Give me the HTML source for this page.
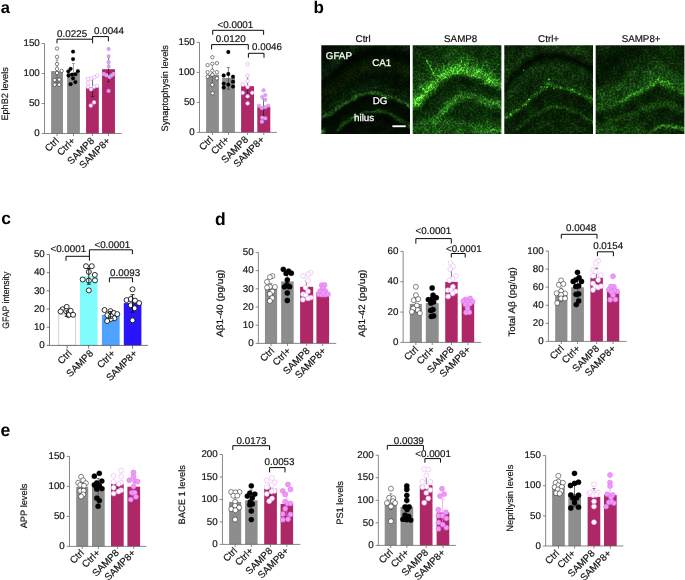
<!DOCTYPE html>
<html><head><meta charset="utf-8"><title>Figure</title>
<style>
html,body{margin:0;padding:0;background:#fff}
body{width:685px;height:580px;overflow:hidden;position:relative;font-family:"Liberation Sans",sans-serif}
svg{position:absolute;left:0;top:0;display:block}
svg text{font-family:"Liberation Sans",sans-serif;font-size:9.8px;fill:#111;stroke:#111;stroke-width:0.18px;text-rendering:geometricPrecision}
svg text.pl{font-size:16.5px;font-weight:bold;fill:#000;stroke:none}
svg text.yl{font-size:9.3px}
svg text.w{fill:#fff;stroke:#fff;stroke-width:0.25px}
</style></head><body>
<svg width="685" height="580" viewBox="0 0 685 580">
<text class="pl" x="0.7" y="12.6" style="font-size:16.5px">a</text>
<text class="pl" x="313.4" y="12.6" style="font-size:17px">b</text>
<text class="pl" x="1.3" y="224.3" style="font-size:17.4px">c</text>
<text class="pl" x="215.1" y="224.6" style="font-size:17.5px">d</text>
<text class="pl" x="0.6" y="436.0" style="font-size:17.6px">e</text>
<defs><clipPath id="ic"><rect x="0" y="0" width="88.7" height="88.7"/></clipPath><filter id="b1" x="-50%" y="-50%" width="200%" height="200%"><feGaussianBlur stdDeviation="1.0"/></filter><filter id="b2" x="-50%" y="-50%" width="200%" height="200%"><feGaussianBlur stdDeviation="2.0"/></filter><filter id="b3" x="-50%" y="-50%" width="200%" height="200%"><feGaussianBlur stdDeviation="3.5"/></filter><filter id="b05" x="-50%" y="-50%" width="200%" height="200%"><feGaussianBlur stdDeviation="0.55"/></filter><filter id="b6" x="-50%" y="-50%" width="200%" height="200%"><feGaussianBlur stdDeviation="6"/></filter><filter id="sp0" x="-5%" y="-5%" width="110%" height="110%" color-interpolation-filters="sRGB"><feTurbulence type="fractalNoise" baseFrequency="0.1" numOctaves="2" seed="3" result="lo"/><feDisplacementMap in="SourceGraphic" in2="lo" scale="4" xChannelSelector="R" yChannelSelector="G" result="d"/><feColorMatrix in="lo" type="matrix" values="0 0 1.6 0 -0.3  0 0 1.6 0 -0.3  0 0 1.6 0 -0.3  0 0 0 0 1" result="lg"/><feComposite in="d" in2="lg" operator="arithmetic" k1="0.7" k2="0.6" k3="0" k4="0" result="r1"/><feTurbulence type="fractalNoise" baseFrequency="0.5" numOctaves="2" seed="4" result="n"/><feColorMatrix in="n" type="matrix" values="0 1 0 0 0  0 1 0 0 0  0 1 0 0 0  0 0 0 0 1"/><feComponentTransfer><feFuncR type="gamma" exponent="3.2" amplitude="3.2"/><feFuncG type="gamma" exponent="3.2" amplitude="3.2"/><feFuncB type="gamma" exponent="3.2" amplitude="3.2"/></feComponentTransfer><feGaussianBlur stdDeviation="0.7" result="g"/><feComposite in="r1" in2="g" operator="arithmetic" k1="0.8" k2="0.5" k3="0" k4="0"/></filter><filter id="sp1" x="-5%" y="-5%" width="110%" height="110%" color-interpolation-filters="sRGB"><feTurbulence type="fractalNoise" baseFrequency="0.1" numOctaves="2" seed="11" result="lo"/><feDisplacementMap in="SourceGraphic" in2="lo" scale="4" xChannelSelector="R" yChannelSelector="G" result="d"/><feColorMatrix in="lo" type="matrix" values="0 0 1.6 0 -0.3  0 0 1.6 0 -0.3  0 0 1.6 0 -0.3  0 0 0 0 1" result="lg"/><feComposite in="d" in2="lg" operator="arithmetic" k1="0.7" k2="0.6" k3="0" k4="0" result="r1"/><feTurbulence type="fractalNoise" baseFrequency="0.5" numOctaves="2" seed="12" result="n"/><feColorMatrix in="n" type="matrix" values="0 1 0 0 0  0 1 0 0 0  0 1 0 0 0  0 0 0 0 1"/><feComponentTransfer><feFuncR type="gamma" exponent="3.2" amplitude="3.2"/><feFuncG type="gamma" exponent="3.2" amplitude="3.2"/><feFuncB type="gamma" exponent="3.2" amplitude="3.2"/></feComponentTransfer><feGaussianBlur stdDeviation="0.7" result="g"/><feComposite in="r1" in2="g" operator="arithmetic" k1="0.8" k2="0.5" k3="0" k4="0"/></filter><filter id="sp2" x="-5%" y="-5%" width="110%" height="110%" color-interpolation-filters="sRGB"><feTurbulence type="fractalNoise" baseFrequency="0.1" numOctaves="2" seed="23" result="lo"/><feDisplacementMap in="SourceGraphic" in2="lo" scale="4" xChannelSelector="R" yChannelSelector="G" result="d"/><feColorMatrix in="lo" type="matrix" values="0 0 1.6 0 -0.3  0 0 1.6 0 -0.3  0 0 1.6 0 -0.3  0 0 0 0 1" result="lg"/><feComposite in="d" in2="lg" operator="arithmetic" k1="0.7" k2="0.6" k3="0" k4="0" result="r1"/><feTurbulence type="fractalNoise" baseFrequency="0.5" numOctaves="2" seed="24" result="n"/><feColorMatrix in="n" type="matrix" values="0 1 0 0 0  0 1 0 0 0  0 1 0 0 0  0 0 0 0 1"/><feComponentTransfer><feFuncR type="gamma" exponent="3.2" amplitude="3.2"/><feFuncG type="gamma" exponent="3.2" amplitude="3.2"/><feFuncB type="gamma" exponent="3.2" amplitude="3.2"/></feComponentTransfer><feGaussianBlur stdDeviation="0.7" result="g"/><feComposite in="r1" in2="g" operator="arithmetic" k1="0.8" k2="0.5" k3="0" k4="0"/></filter><filter id="sp3" x="-5%" y="-5%" width="110%" height="110%" color-interpolation-filters="sRGB"><feTurbulence type="fractalNoise" baseFrequency="0.1" numOctaves="2" seed="37" result="lo"/><feDisplacementMap in="SourceGraphic" in2="lo" scale="4" xChannelSelector="R" yChannelSelector="G" result="d"/><feColorMatrix in="lo" type="matrix" values="0 0 1.6 0 -0.3  0 0 1.6 0 -0.3  0 0 1.6 0 -0.3  0 0 0 0 1" result="lg"/><feComposite in="d" in2="lg" operator="arithmetic" k1="0.7" k2="0.6" k3="0" k4="0" result="r1"/><feTurbulence type="fractalNoise" baseFrequency="0.5" numOctaves="2" seed="38" result="n"/><feColorMatrix in="n" type="matrix" values="0 1 0 0 0  0 1 0 0 0  0 1 0 0 0  0 0 0 0 1"/><feComponentTransfer><feFuncR type="gamma" exponent="3.2" amplitude="3.2"/><feFuncG type="gamma" exponent="3.2" amplitude="3.2"/><feFuncB type="gamma" exponent="3.2" amplitude="3.2"/></feComponentTransfer><feGaussianBlur stdDeviation="0.7" result="g"/><feComposite in="r1" in2="g" operator="arithmetic" k1="0.8" k2="0.5" k3="0" k4="0"/></filter></defs><g transform="translate(321.3 45.2)" clip-path="url(#ic)"><g filter="url(#sp0)"><rect x="-2" y="-2" width="93" height="93" fill="#051204"/><path d="M-3.0 34.0C-0.8 32.0 5.5 26.0 10.0 22.0C14.5 18.0 19.3 13.5 24.0 10.0C28.7 6.5 33.3 3.2 38.0 1.0C42.7 -1.2 47.0 -2.8 52.0 -3.5C57.0 -4.2 61.5 -4.1 68.0 -3.0C74.5 -1.9 87.2 2.0 91.0 3.0" fill="none" stroke="#1f5a14" stroke-width="10" stroke-opacity="0.3" stroke-linecap="round" filter="url(#b3)"/><path d="M-3.0 44.0C-0.8 42.0 5.5 36.0 10.0 32.0C14.5 28.0 19.3 23.5 24.0 20.0C28.7 16.5 33.3 13.2 38.0 11.0C42.7 8.8 47.0 7.2 52.0 6.5C57.0 5.8 61.5 5.9 68.0 7.0C74.5 8.1 87.2 12.0 91.0 13.0" fill="none" stroke="#020803" stroke-width="7" stroke-opacity="0.7" stroke-linecap="round" filter="url(#b2)"/><path d="M-3.0 58.0C-0.8 56.0 5.5 50.0 10.0 46.0C14.5 42.0 19.3 37.5 24.0 34.0C28.7 30.5 33.3 27.2 38.0 25.0C42.7 22.8 47.0 21.2 52.0 20.5C57.0 19.8 61.5 19.9 68.0 21.0C74.5 22.1 87.2 26.0 91.0 27.0" fill="none" stroke="#1d5513" stroke-width="12" stroke-opacity="0.22" stroke-linecap="round" filter="url(#b3)"/><path d="M-2.0 69.0C-0.3 68.2 4.7 66.0 8.3 64.0C11.9 62.0 15.7 59.4 19.4 56.9C23.1 54.4 27.1 51.1 30.5 49.0C33.9 46.9 36.8 45.3 40.0 44.2C43.2 43.1 46.3 42.7 49.5 42.6C52.7 42.5 55.5 43.1 59.0 43.9C62.5 44.7 66.5 46.0 70.2 47.4C73.9 48.8 77.8 50.4 81.3 52.1C84.8 53.8 89.4 56.6 91.0 57.5" fill="none" stroke="#1f5c15" stroke-width="8" stroke-opacity="0.4" stroke-linecap="round" filter="url(#b3)"/><path d="M-2.0 74.0C-0.3 73.2 4.7 71.0 8.3 69.0C11.9 67.0 15.7 64.4 19.4 61.9C23.1 59.4 27.1 56.1 30.5 54.0C33.9 51.9 36.8 50.3 40.0 49.2C43.2 48.1 46.3 47.7 49.5 47.6C52.7 47.5 55.5 48.1 59.0 48.9C62.5 49.7 66.5 51.0 70.2 52.4C73.9 53.8 77.8 55.4 81.3 57.1C84.8 58.8 89.4 61.6 91.0 62.5" fill="none" stroke="#4cc934" stroke-width="1.8" stroke-opacity="0.9" stroke-linecap="round" filter="url(#b1)"/><path d="M-2.0 80.5C-0.3 79.7 4.7 77.5 8.3 75.5C11.9 73.5 15.7 70.9 19.4 68.4C23.1 65.9 27.1 62.6 30.5 60.5C33.9 58.4 36.8 56.8 40.0 55.7C43.2 54.6 46.3 54.2 49.5 54.1C52.7 54.0 55.5 54.6 59.0 55.4C62.5 56.2 66.5 57.5 70.2 58.9C73.9 60.3 77.8 61.9 81.3 63.6C84.8 65.3 89.4 68.1 91.0 69.0" fill="none" stroke="#020803" stroke-width="6" stroke-opacity="0.45" stroke-linecap="round" filter="url(#b2)"/><path d="M14.0 86.0C14.9 85.2 16.6 83.2 19.4 81.0C22.1 78.8 26.5 75.2 30.5 73.0C34.5 70.8 39.2 68.7 43.2 67.5C47.2 66.3 50.6 65.9 54.3 65.9C58.0 65.9 61.7 66.3 65.4 67.5C69.1 68.7 72.2 70.4 76.5 73.0C80.8 75.6 88.6 81.3 91.0 83.0" fill="none" stroke="#2f8a20" stroke-width="2.2" stroke-opacity="0.8" stroke-linecap="round" filter="url(#b1)"/><path d="M14.0 92.5C14.9 91.7 16.6 89.7 19.4 87.5C22.1 85.3 26.5 81.8 30.5 79.5C34.5 77.2 39.2 75.2 43.2 74.0C47.2 72.8 50.6 72.4 54.3 72.4C58.0 72.4 61.7 72.8 65.4 74.0C69.1 75.2 72.2 76.9 76.5 79.5C80.8 82.1 88.6 87.8 91.0 89.5" fill="none" stroke="#020803" stroke-width="6" stroke-opacity="0.5" stroke-linecap="round" filter="url(#b2)"/><circle cx="1.5" cy="86.5" r="2" fill="#5e4" filter="url(#b1)"/></g></g><g transform="translate(412.7 45.2)" clip-path="url(#ic)"><g filter="url(#sp1)"><rect x="-2" y="-2" width="93" height="93" fill="#10390c"/><path d="M-3.0 48.0C-1.1 47.1 5.3 45.1 8.6 42.6C11.9 40.1 14.1 35.7 16.9 32.7C19.7 29.7 22.2 26.9 25.2 24.4C28.2 21.9 31.8 19.4 35.1 17.8C38.4 16.2 41.7 14.6 45.0 14.5C48.3 14.4 51.7 16.0 55.0 17.0C58.3 18.0 61.6 19.1 64.9 20.3C68.2 21.5 70.5 22.5 74.8 24.4C79.1 26.3 88.3 30.3 91.0 31.5" fill="none" stroke="#2c8a1e" stroke-width="16" stroke-opacity="0.5" stroke-linecap="round" filter="url(#b3)"/><path d="M-3.0 67.0C-1.1 66.1 5.3 64.2 8.6 61.6C11.9 59.1 14.1 54.7 16.9 51.7C19.7 48.7 22.2 45.9 25.2 43.4C28.2 40.9 31.8 38.4 35.1 36.8C38.4 35.1 41.7 33.6 45.0 33.5C48.3 33.4 51.7 35.0 55.0 36.0C58.3 37.0 61.6 38.1 64.9 39.3C68.2 40.5 70.5 41.5 74.8 43.4C79.1 45.3 88.3 49.3 91.0 50.5" fill="none" stroke="#061a05" stroke-width="9" stroke-opacity="0.6" stroke-linecap="round" filter="url(#b3)"/><path d="M-3.0 58.0C-1.1 57.1 5.3 55.1 8.6 52.6C11.9 50.1 14.1 45.7 16.9 42.7C19.7 39.7 22.2 36.9 25.2 34.4C28.2 31.9 31.8 29.4 35.1 27.8C38.4 26.2 41.7 24.6 45.0 24.5C48.3 24.4 51.7 26.0 55.0 27.0C58.3 28.0 61.6 29.1 64.9 30.3C68.2 31.5 70.5 32.5 74.8 34.4C79.1 36.3 88.3 40.3 91.0 41.5" fill="none" stroke="#4cc934" stroke-width="9" stroke-opacity="0.85" stroke-linecap="round" filter="url(#b2)"/><path d="M-3.0 58.0C-1.1 57.1 5.3 55.1 8.6 52.6C11.9 50.1 14.1 45.7 16.9 42.7C19.7 39.7 22.2 36.9 25.2 34.4C28.2 31.9 31.8 29.4 35.1 27.8C38.4 26.2 41.7 24.6 45.0 24.5C48.3 24.4 51.7 26.0 55.0 27.0C58.3 28.0 61.6 29.1 64.9 30.3C68.2 31.5 70.5 32.5 74.8 34.4C79.1 36.3 88.3 40.3 91.0 41.5" fill="none" stroke="#5fe83a" stroke-width="3.6" stroke-opacity="0.95" stroke-linecap="round" filter="url(#b1)"/><path d="M22.0 78.0C23.1 76.5 26.0 72.0 28.5 69.2C31.0 66.4 34.0 63.4 36.8 60.9C39.5 58.4 42.2 55.9 45.0 54.3C47.8 52.6 50.0 51.1 53.3 51.0C56.6 50.9 61.3 52.5 64.9 53.5C68.5 54.5 70.5 55.1 74.8 56.8C79.1 58.5 88.3 62.4 91.0 63.5" fill="none" stroke="#45b830" stroke-width="7" stroke-opacity="0.85" stroke-linecap="round" filter="url(#b2)"/><path d="M22.0 87.0C23.1 85.5 26.0 81.0 28.5 78.2C31.0 75.4 34.0 72.4 36.8 69.9C39.5 67.4 42.2 65.0 45.0 63.3C47.8 61.6 50.0 60.1 53.3 60.0C56.6 59.9 61.3 61.5 64.9 62.5C68.5 63.5 70.5 64.1 74.8 65.8C79.1 67.5 88.3 71.4 91.0 72.5" fill="none" stroke="#08230a" stroke-width="6" stroke-opacity="0.5" stroke-linecap="round" filter="url(#b3)"/><rect x="-2" y="76" width="93" height="16" fill="#2f8d20" opacity="0.6" filter="url(#b3)"/><circle cx="5" cy="58" r="4" fill="#58e238" opacity="0.8" filter="url(#b2)"/><path d="M21 29L14.5 14.5" stroke="#52d634" stroke-width="1.4" stroke-opacity="0.85" fill="none" filter="url(#b05)"/><path d="M20 30L24 22" stroke="#52d634" stroke-width="1.4" stroke-opacity="0.85" fill="none" filter="url(#b05)"/><path d="M37 26L36 17" stroke="#52d634" stroke-width="1.4" stroke-opacity="0.85" fill="none" filter="url(#b05)"/><path d="M61 26L64 17" stroke="#52d634" stroke-width="1.4" stroke-opacity="0.85" fill="none" filter="url(#b05)"/><path d="M73 32L80 24" stroke="#52d634" stroke-width="1.4" stroke-opacity="0.85" fill="none" filter="url(#b05)"/><path d="M81 26L86 19" stroke="#52d634" stroke-width="1.4" stroke-opacity="0.85" fill="none" filter="url(#b05)"/><path d="M47 24L49 15" stroke="#52d634" stroke-width="1.4" stroke-opacity="0.85" fill="none" filter="url(#b05)"/><path d="M29 31L26 24" stroke="#52d634" stroke-width="1.4" stroke-opacity="0.85" fill="none" filter="url(#b05)"/><path d="M54 25L56 16" stroke="#52d634" stroke-width="1.4" stroke-opacity="0.85" fill="none" filter="url(#b05)"/><path d="M67 29L70 20" stroke="#52d634" stroke-width="1.4" stroke-opacity="0.85" fill="none" filter="url(#b05)"/><path d="M42 25L40 17" stroke="#52d634" stroke-width="1.4" stroke-opacity="0.85" fill="none" filter="url(#b05)"/><path d="M13 46L8 40" stroke="#52d634" stroke-width="1.4" stroke-opacity="0.85" fill="none" filter="url(#b05)"/><path d="M10 50L4 47" stroke="#52d634" stroke-width="1.4" stroke-opacity="0.85" fill="none" filter="url(#b05)"/><path d="M33 29L31 21" stroke="#52d634" stroke-width="1.4" stroke-opacity="0.85" fill="none" filter="url(#b05)"/><circle cx="13" cy="45" r="2.4" fill="#58e238" opacity="0.75" filter="url(#b1)"/><circle cx="20" cy="35" r="2.2" fill="#58e238" opacity="0.75" filter="url(#b1)"/><circle cx="23" cy="29" r="2.0" fill="#58e238" opacity="0.75" filter="url(#b1)"/><circle cx="30" cy="27" r="2.4" fill="#58e238" opacity="0.75" filter="url(#b1)"/><circle cx="37" cy="22" r="2.2" fill="#58e238" opacity="0.75" filter="url(#b1)"/><circle cx="45" cy="21" r="2.6" fill="#58e238" opacity="0.75" filter="url(#b1)"/><circle cx="52" cy="19" r="2.2" fill="#58e238" opacity="0.75" filter="url(#b1)"/><circle cx="58" cy="23" r="2.4" fill="#58e238" opacity="0.75" filter="url(#b1)"/><circle cx="66" cy="25" r="2.6" fill="#58e238" opacity="0.75" filter="url(#b1)"/><circle cx="72" cy="30" r="2.2" fill="#58e238" opacity="0.75" filter="url(#b1)"/><circle cx="79" cy="29" r="2.0" fill="#58e238" opacity="0.75" filter="url(#b1)"/><circle cx="85" cy="36" r="2.4" fill="#58e238" opacity="0.75" filter="url(#b1)"/><circle cx="9" cy="52" r="2.2" fill="#58e238" opacity="0.75" filter="url(#b1)"/><circle cx="41" cy="27" r="1.8" fill="#58e238" opacity="0.75" filter="url(#b1)"/><path d="M70 88Q78 84 91 86" stroke="#58e238" stroke-width="2" fill="none" filter="url(#b1)"/></g></g><g transform="translate(504.3 45.2)" clip-path="url(#ic)"><g filter="url(#sp2)"><rect x="-2" y="-2" width="93" height="93" fill="#0d2c08"/><path d="M-3.0 37.0C-0.8 34.4 6.2 25.7 10.3 21.1C14.4 16.5 17.8 12.5 21.9 9.5C26.0 6.5 30.1 4.3 35.1 2.9C40.1 1.5 46.2 1.0 51.7 1.3C57.2 1.6 61.7 2.2 68.2 4.6C74.8 7.0 87.2 13.7 91.0 15.5" fill="none" stroke="#1f5c15" stroke-width="10" stroke-opacity="0.45" stroke-linecap="round" filter="url(#b3)"/><path d="M-3.0 47.0C-0.8 44.4 6.2 35.7 10.3 31.1C14.4 26.5 17.8 22.5 21.9 19.5C26.0 16.5 30.1 14.3 35.1 12.9C40.1 11.5 46.2 11.0 51.7 11.3C57.2 11.6 61.7 12.2 68.2 14.6C74.8 17.0 87.2 23.7 91.0 25.5" fill="none" stroke="#020702" stroke-width="6" stroke-opacity="0.85" stroke-linecap="round" filter="url(#b2)"/><path d="M-3.0 59.0C-0.8 56.4 6.2 47.7 10.3 43.1C14.4 38.5 17.8 34.5 21.9 31.5C26.0 28.5 30.1 26.3 35.1 24.9C40.1 23.5 46.2 23.0 51.7 23.3C57.2 23.6 61.7 24.2 68.2 26.6C74.8 29.0 87.2 35.7 91.0 37.5" fill="none" stroke="#1f5c15" stroke-width="11" stroke-opacity="0.4" stroke-linecap="round" filter="url(#b3)"/><path d="M-3.0 71.0C-1.9 70.3 0.8 68.7 3.6 66.9C6.4 65.1 10.3 62.7 13.6 60.2C16.9 57.7 20.2 54.8 23.5 52.0C26.8 49.2 30.5 46.1 33.4 43.7C36.3 41.3 39.0 39.1 41.0 37.5C43.0 35.9 44.0 34.1 45.7 34.0C47.4 33.9 48.6 36.1 51.0 37.0C53.4 37.9 56.8 38.7 59.9 39.5C63.0 40.3 66.6 40.8 69.9 42.0C73.2 43.2 76.3 45.0 79.8 47.0C83.3 49.0 89.1 52.8 91.0 54.0" fill="none" stroke="#1f5c15" stroke-width="7" stroke-opacity="0.45" stroke-linecap="round" filter="url(#b3)"/><path d="M-3.0 75.0C-1.9 74.3 0.8 72.7 3.6 70.9C6.4 69.1 10.3 66.7 13.6 64.2C16.9 61.7 20.2 58.8 23.5 56.0C26.8 53.2 30.5 50.1 33.4 47.7C36.3 45.3 39.0 43.1 41.0 41.5C43.0 39.9 44.0 38.1 45.7 38.0C47.4 37.9 48.6 40.1 51.0 41.0C53.4 41.9 56.8 42.7 59.9 43.5C63.0 44.3 66.6 44.8 69.9 46.0C73.2 47.2 76.3 49.0 79.8 51.0C83.3 53.0 89.1 56.8 91.0 58.0" fill="none" stroke="#3fae2b" stroke-width="2.0" stroke-opacity="0.75" stroke-linecap="round" filter="url(#b1)"/><path d="M-3.0 82.0C-1.9 81.3 0.8 79.7 3.6 77.9C6.4 76.1 10.3 73.7 13.6 71.2C16.9 68.7 20.2 65.8 23.5 63.0C26.8 60.2 30.5 57.1 33.4 54.7C36.3 52.3 39.0 50.1 41.0 48.5C43.0 46.9 44.0 45.1 45.7 45.0C47.4 44.9 48.6 47.1 51.0 48.0C53.4 48.9 56.8 49.7 59.9 50.5C63.0 51.3 66.6 51.8 69.9 53.0C73.2 54.2 76.3 56.0 79.8 58.0C83.3 60.0 89.1 63.8 91.0 65.0" fill="none" stroke="#030a03" stroke-width="6" stroke-opacity="0.25" stroke-linecap="round" filter="url(#b2)"/><path d="M12.0 85.0C13.1 84.0 15.5 81.4 18.5 79.1C21.5 76.8 26.2 73.4 30.1 70.9C34.0 68.4 38.1 65.7 41.7 64.2C45.3 62.7 48.1 61.9 51.7 61.8C55.3 61.7 59.6 62.4 63.2 63.4C66.8 64.3 69.9 65.7 73.2 67.5C76.5 69.3 80.1 72.0 83.1 74.2C86.1 76.5 89.7 79.9 91.0 81.0" fill="none" stroke="#2f8d20" stroke-width="1.8" stroke-opacity="0.65" stroke-linecap="round" filter="url(#b1)"/><path d="M12.0 90.0C13.1 89.0 15.5 86.4 18.5 84.1C21.5 81.8 26.2 78.4 30.1 75.9C34.0 73.4 38.1 70.7 41.7 69.2C45.3 67.7 48.1 66.9 51.7 66.8C55.3 66.7 59.6 67.5 63.2 68.4C66.8 69.4 69.9 70.7 73.2 72.5C76.5 74.3 80.1 77.0 83.1 79.2C86.1 81.5 89.7 84.9 91.0 86.0" fill="none" stroke="#030a03" stroke-width="4" stroke-opacity="0.25" stroke-linecap="round" filter="url(#b2)"/><path d="M30.0 89.0C31.7 87.5 36.3 82.4 40.0 80.0C43.7 77.6 47.7 75.0 52.0 74.5C56.3 74.0 61.3 75.1 66.0 77.0C70.7 78.9 77.7 84.5 80.0 86.0" fill="none" stroke="#2a7a1c" stroke-width="1.6" stroke-opacity="0.5" stroke-linecap="round" filter="url(#b1)"/><circle cx="44.6" cy="34" r="0.7" fill="#58e238" opacity="0.9" filter="url(#b05)"/><circle cx="37" cy="41" r="1.1" fill="#58e238" opacity="0.9" filter="url(#b05)"/><circle cx="43" cy="41.5" r="1.0" fill="#58e238" opacity="0.9" filter="url(#b05)"/><circle cx="50" cy="43" r="1.1" fill="#58e238" opacity="0.9" filter="url(#b05)"/><circle cx="57" cy="43.5" r="1.2" fill="#58e238" opacity="0.9" filter="url(#b05)"/><circle cx="68" cy="45" r="1.0" fill="#58e238" opacity="0.9" filter="url(#b05)"/><circle cx="35.5" cy="46.5" r="1.3" fill="#58e238" opacity="0.9" filter="url(#b05)"/><circle cx="25" cy="54" r="1.2" fill="#58e238" opacity="0.9" filter="url(#b05)"/><circle cx="21" cy="59" r="1.3" fill="#58e238" opacity="0.9" filter="url(#b05)"/><circle cx="13" cy="65" r="1.2" fill="#58e238" opacity="0.9" filter="url(#b05)"/><circle cx="6" cy="69" r="1.3" fill="#58e238" opacity="0.9" filter="url(#b05)"/><circle cx="75" cy="49" r="1.0" fill="#58e238" opacity="0.9" filter="url(#b05)"/><circle cx="20" cy="24" r="0.9" fill="#58e238" opacity="0.9" filter="url(#b05)"/><path d="M44.5 31.5V37" stroke="#58e238" stroke-width="0.9" filter="url(#b05)"/></g></g><g transform="translate(595.7 45.2)" clip-path="url(#ic)"><g filter="url(#sp3)"><rect x="-2" y="-2" width="93" height="93" fill="#0e3009"/><path d="M-3.0 33.0C-0.8 31.2 5.5 25.8 10.0 22.0C14.5 18.2 20.0 13.2 24.0 10.0C28.0 6.8 31.0 5.2 34.0 3.0C37.0 0.8 40.7 -2.0 42.0 -3.0" fill="none" stroke="#041004" stroke-width="16" stroke-opacity="0.7" stroke-linecap="round" filter="url(#b3)"/><path d="M3.0 51.0C5.0 50.7 11.1 50.2 15.0 49.0C18.9 47.8 22.9 45.8 26.5 44.0C30.1 42.2 33.1 40.1 36.4 38.2C39.7 36.3 43.4 34.1 46.4 32.4C49.4 30.7 51.9 29.5 54.6 28.2C57.4 27.0 61.0 25.3 62.9 24.9C64.8 24.5 64.5 25.2 66.2 25.7C67.9 26.3 70.3 27.1 72.8 28.2C75.3 29.3 78.1 30.9 81.1 32.4C84.1 33.9 89.3 36.2 91.0 37.0" fill="none" stroke="#27741a" stroke-width="16" stroke-opacity="0.6" stroke-linecap="round" filter="url(#b3)"/><path d="M3.0 63.0C5.0 62.7 11.1 62.2 15.0 61.0C18.9 59.8 22.9 57.8 26.5 56.0C30.1 54.2 33.1 52.1 36.4 50.2C39.7 48.3 43.4 46.1 46.4 44.4C49.4 42.7 51.9 41.5 54.6 40.2C57.4 39.0 61.0 37.3 62.9 36.9C64.8 36.5 64.5 37.2 66.2 37.7C67.9 38.2 70.3 39.1 72.8 40.2C75.3 41.3 78.1 42.9 81.1 44.4C84.1 45.9 89.3 48.2 91.0 49.0" fill="none" stroke="#2f8a20" stroke-width="6" stroke-opacity="0.7" stroke-linecap="round" filter="url(#b2)"/><path d="M26.5 56.0C28.1 55.0 33.1 52.1 36.4 50.2C39.7 48.3 43.4 46.1 46.4 44.4C49.4 42.7 51.9 41.5 54.6 40.2C57.4 39.0 61.0 37.3 62.9 36.9C64.8 36.5 64.5 37.2 66.2 37.7C67.9 38.2 70.3 39.1 72.8 40.2C75.3 41.3 78.1 42.9 81.1 44.4C84.1 45.9 89.3 48.2 91.0 49.0" fill="none" stroke="#50d634" stroke-width="1.8" stroke-opacity="0.9" stroke-linecap="round" filter="url(#b1)"/><path d="M3.0 71.0C5.0 70.7 11.1 70.2 15.0 69.0C18.9 67.8 22.9 65.8 26.5 64.0C30.1 62.2 33.1 60.1 36.4 58.2C39.7 56.3 43.4 54.1 46.4 52.4C49.4 50.7 51.9 49.5 54.6 48.2C57.4 47.0 61.0 45.3 62.9 44.9C64.8 44.5 64.5 45.2 66.2 45.7C67.9 46.2 70.3 47.1 72.8 48.2C75.3 49.3 78.1 50.9 81.1 52.4C84.1 53.9 89.3 56.2 91.0 57.0" fill="none" stroke="#05150a" stroke-width="6" stroke-opacity="0.35" stroke-linecap="round" filter="url(#b2)"/><path d="M10.0 76.0C11.4 75.8 14.1 75.8 18.2 75.0C22.3 74.2 29.8 72.7 34.8 70.9C39.8 69.1 43.9 66.0 48.0 64.2C52.1 62.4 56.3 60.9 59.6 60.1C62.9 59.3 64.6 59.0 67.9 59.3C71.2 59.6 75.7 60.7 79.5 61.8C83.3 62.9 89.1 65.3 91.0 66.0" fill="none" stroke="#2f8d20" stroke-width="3.5" stroke-opacity="0.7" stroke-linecap="round" filter="url(#b2)"/><path d="M10.0 83.0C11.4 82.8 14.1 82.8 18.2 82.0C22.3 81.2 29.8 79.7 34.8 77.9C39.8 76.1 43.9 73.0 48.0 71.2C52.1 69.4 56.3 67.9 59.6 67.1C62.9 66.3 64.6 66.0 67.9 66.3C71.2 66.6 75.7 67.7 79.5 68.8C83.3 69.9 89.1 72.3 91.0 73.0" fill="none" stroke="#05150a" stroke-width="5" stroke-opacity="0.25" stroke-linecap="round" filter="url(#b2)"/><path d="M50.0 91.0C50.8 90.3 52.5 88.2 54.6 86.6C56.8 85.0 60.1 82.6 62.9 81.6C65.7 80.6 68.4 80.5 71.2 80.5C74.0 80.5 76.2 81.0 79.5 81.6C82.8 82.2 89.1 83.6 91.0 84.0" fill="none" stroke="#56e036" stroke-width="1.8" stroke-opacity="0.95" stroke-linecap="round" filter="url(#b1)"/><rect x="-2" y="80" width="50" height="12" fill="#2a7f1c" opacity="0.5" filter="url(#b3)"/><path d="M62 36L65 30M74 40L72 35" stroke="#52d634" stroke-width="1.3" fill="none" filter="url(#b05)"/></g></g><text x="363.2" y="42.0" text-anchor="middle">Ctrl</text><text x="460.7" y="42.0" text-anchor="middle">SAMP8</text><text x="548.6" y="42.0" text-anchor="middle">Ctrl+</text><text x="641.1" y="42.0" text-anchor="middle">SAMP8+</text><text class="w" x="325.8" y="58.8">GFAP</text><text class="w" x="372.2" y="66.0">CA1</text><text class="w" x="372.8" y="104.4">DG</text><text class="w" x="354.0" y="121.2">hilus</text><rect x="392.4" y="125.3" width="13.3" height="1.9" fill="#fff"/>
<g>
<rect x="51.1" y="71.1" width="11.9" height="62.4" fill="#8d8d8d"/>
<rect x="67.1" y="73" width="12.8" height="60.5" fill="#8d8d8d"/>
<rect x="86.05" y="87.2" width="12.75" height="46.3" fill="#ae2868"/>
<rect x="102.05" y="69.2" width="12.9" height="64.3" fill="#ae2868"/>
<path d="M44.5 43.55V133.5H121.5" fill="none" stroke="#606060" stroke-width="0.75"/>
<path d="M44.5 133.5h-2.8M44.5 103.52h-2.8M44.5 73.53h-2.8M44.5 43.55h-2.8M57.05 133.5v2.6M73.5 133.5v2.6M92.42 133.5v2.6M108.5 133.5v2.6" fill="none" stroke="#606060" stroke-width="0.75"/>
<text x="39.8" y="136.2" text-anchor="end">0</text>
<text x="39.8" y="106.22" text-anchor="end">50</text>
<text x="39.8" y="76.23" text-anchor="end">100</text>
<text x="39.8" y="46.25" text-anchor="end">150</text>
<path d="M57 82.77V59.86M55.5 82.77h3M55.5 59.86h3" fill="none" stroke="#555" stroke-width="0.6"/>
<path d="M73.5 83.13V63.58M72 83.13h3M72 63.58h3" fill="none" stroke="#666" stroke-width="0.6"/>
<path d="M92.55 96.62V78.27M91.05 96.62h3M91.05 78.27h3" fill="none" stroke="#111" stroke-width="0.6"/>
<path d="M108.6 81.81V57.34M107.1 81.81h3M107.1 57.34h3" fill="none" stroke="#111" stroke-width="0.6"/>
<circle cx="57" cy="48.55" r="1.7" fill="#fff" stroke="#222" stroke-width="0.55"/>
<circle cx="57" cy="56.8" r="1.7" fill="#fff" stroke="#222" stroke-width="0.55"/>
<circle cx="57" cy="64.1" r="1.7" fill="#fff" stroke="#222" stroke-width="0.55"/>
<circle cx="57" cy="68.8" r="1.7" fill="#fff" stroke="#222" stroke-width="0.55"/>
<circle cx="61.7" cy="70.9" r="1.7" fill="#fff" stroke="#222" stroke-width="0.55"/>
<circle cx="57" cy="73" r="1.7" fill="#fff" stroke="#222" stroke-width="0.55"/>
<circle cx="54.7" cy="80" r="1.7" fill="#fff" stroke="#222" stroke-width="0.55"/>
<circle cx="59.2" cy="79.6" r="1.7" fill="#fff" stroke="#222" stroke-width="0.55"/>
<circle cx="54.7" cy="84.7" r="1.7" fill="#fff" stroke="#222" stroke-width="0.55"/>
<circle cx="59.2" cy="84.7" r="1.7" fill="#fff" stroke="#222" stroke-width="0.55"/>
<circle cx="73.07" cy="51.6" r="1.9" fill="#000" stroke="#000" stroke-width="0.2"/>
<circle cx="73.07" cy="59.07" r="1.9" fill="#000" stroke="#000" stroke-width="0.2"/>
<circle cx="70.6" cy="68.8" r="1.9" fill="#000" stroke="#000" stroke-width="0.2"/>
<circle cx="68.35" cy="71.3" r="1.9" fill="#000" stroke="#000" stroke-width="0.2"/>
<circle cx="77.9" cy="71.15" r="1.9" fill="#000" stroke="#000" stroke-width="0.2"/>
<circle cx="75.4" cy="74.2" r="1.9" fill="#000" stroke="#000" stroke-width="0.2"/>
<circle cx="72.1" cy="74.6" r="1.9" fill="#000" stroke="#000" stroke-width="0.2"/>
<circle cx="68.5" cy="75.5" r="1.9" fill="#000" stroke="#000" stroke-width="0.2"/>
<circle cx="73.07" cy="78.35" r="1.9" fill="#000" stroke="#000" stroke-width="0.2"/>
<circle cx="75.4" cy="82.1" r="1.9" fill="#000" stroke="#000" stroke-width="0.2"/>
<circle cx="70.6" cy="84.15" r="1.9" fill="#000" stroke="#000" stroke-width="0.2"/>
<circle cx="97" cy="75.7" r="1.8" fill="#fff" stroke="#e4aaf8" stroke-width="0.75"/>
<circle cx="94.3" cy="77.4" r="1.8" fill="#fff" stroke="#e4aaf8" stroke-width="0.75"/>
<circle cx="91.1" cy="78.6" r="1.8" fill="#fff" stroke="#e4aaf8" stroke-width="0.75"/>
<circle cx="88.1" cy="78.95" r="1.8" fill="#fff" stroke="#e4aaf8" stroke-width="0.75"/>
<circle cx="88.1" cy="82.9" r="1.8" fill="#fff" stroke="#e4aaf8" stroke-width="0.75"/>
<circle cx="87.9" cy="86.8" r="1.8" fill="#fff" stroke="#e4aaf8" stroke-width="0.75"/>
<circle cx="97" cy="86" r="1.8" fill="#fff" stroke="#e4aaf8" stroke-width="0.75"/>
<circle cx="94.1" cy="86.8" r="1.8" fill="#fff" stroke="#e4aaf8" stroke-width="0.75"/>
<circle cx="91.1" cy="89.2" r="1.8" fill="#fff" stroke="#e4aaf8" stroke-width="0.75"/>
<circle cx="94.1" cy="102.4" r="1.8" fill="#fff" stroke="#e4aaf8" stroke-width="0.75"/>
<circle cx="90.8" cy="105.6" r="1.8" fill="#fff" stroke="#e4aaf8" stroke-width="0.75"/>
<circle cx="108.6" cy="49" r="1.95" fill="#db9df6" stroke="#db9df6" stroke-width="0.2"/>
<circle cx="108.6" cy="56.1" r="1.95" fill="#db9df6" stroke="#db9df6" stroke-width="0.2"/>
<circle cx="108.6" cy="62.2" r="1.95" fill="#db9df6" stroke="#db9df6" stroke-width="0.2"/>
<circle cx="108.6" cy="66.5" r="1.95" fill="#db9df6" stroke="#db9df6" stroke-width="0.2"/>
<circle cx="103.8" cy="74" r="1.95" fill="#db9df6" stroke="#db9df6" stroke-width="0.2"/>
<circle cx="106.4" cy="75.3" r="1.95" fill="#db9df6" stroke="#db9df6" stroke-width="0.2"/>
<circle cx="109.6" cy="77" r="1.95" fill="#db9df6" stroke="#db9df6" stroke-width="0.2"/>
<circle cx="111.6" cy="75.4" r="1.95" fill="#db9df6" stroke="#db9df6" stroke-width="0.2"/>
<circle cx="113.6" cy="74" r="1.95" fill="#db9df6" stroke="#db9df6" stroke-width="0.2"/>
<circle cx="108.6" cy="90.9" r="1.95" fill="#db9df6" stroke="#db9df6" stroke-width="0.2"/>
<text transform="translate(59.45 141.4) rotate(-45)" text-anchor="end">Ctrl</text>
<text transform="translate(75.9 141.4) rotate(-45)" text-anchor="end">Ctrl+</text>
<text transform="translate(94.83 141.4) rotate(-45)" text-anchor="end">SAMP8</text>
<text transform="translate(110.9 141.4) rotate(-45)" text-anchor="end">SAMP8+</text>
<text class="yl" transform="translate(7.6 93.9) rotate(-90)" text-anchor="middle" textLength="53.4" lengthAdjust="spacingAndGlyphs">EphB2 levels</text>
<path d="M57 43.3V39.2H92.6V43.3" fill="none" stroke="#0a0a0a" stroke-width="1"/>
<path d="M92.6 39.2V36.6H108.4V41.3" fill="none" stroke="#0a0a0a" stroke-width="1"/>
<text x="72.1" y="36.5" text-anchor="middle">0.0225</text>
<text x="109" y="34.2" text-anchor="middle">0.0044</text>
</g>
<g>
<rect x="206.1" y="74.6" width="12.8" height="57.8" fill="#8d8d8d"/>
<rect x="222.2" y="77.9" width="12.7" height="54.5" fill="#8d8d8d"/>
<rect x="241.1" y="86.2" width="12.9" height="46.2" fill="#ae2868"/>
<rect x="257.3" y="106.6" width="13" height="25.8" fill="#ae2868"/>
<path d="M199.5 42.4V132.4H276.9" fill="none" stroke="#606060" stroke-width="0.75"/>
<path d="M199.5 132.4h-2.8M199.5 102.4h-2.8M199.5 72.4h-2.8M199.5 42.4h-2.8M212.5 132.4v2.6M228.55 132.4v2.6M247.55 132.4v2.6M263.8 132.4v2.6" fill="none" stroke="#606060" stroke-width="0.75"/>
<text x="194.8" y="135.1" text-anchor="end">0</text>
<text x="194.8" y="105.1" text-anchor="end">50</text>
<text x="194.8" y="75.1" text-anchor="end">100</text>
<text x="194.8" y="45.1" text-anchor="end">150</text>
<path d="M212.35 85.6V64M210.85 85.6h3M210.85 64h3" fill="none" stroke="#444" stroke-width="0.6"/>
<path d="M228.4 89.2V67.6M226.9 89.2h3M226.9 67.6h3" fill="none" stroke="#333" stroke-width="0.6"/>
<path d="M247.6 98.56V75.64M246.1 98.56h3M246.1 75.64h3" fill="none" stroke="#111" stroke-width="0.6"/>
<path d="M263.5 116.44V99.1M262 116.44h3M262 99.1h3" fill="none" stroke="#111" stroke-width="0.6"/>
<circle cx="212.35" cy="57.25" r="1.7" fill="#fff" stroke="#222" stroke-width="0.55"/>
<circle cx="212.35" cy="63.7" r="1.7" fill="#fff" stroke="#222" stroke-width="0.55"/>
<circle cx="216.9" cy="63.2" r="1.7" fill="#fff" stroke="#222" stroke-width="0.55"/>
<circle cx="207.6" cy="65.1" r="1.7" fill="#fff" stroke="#222" stroke-width="0.55"/>
<circle cx="212.35" cy="70.65" r="1.7" fill="#fff" stroke="#222" stroke-width="0.55"/>
<circle cx="207.6" cy="72.15" r="1.7" fill="#fff" stroke="#222" stroke-width="0.55"/>
<circle cx="216.9" cy="72.15" r="1.7" fill="#fff" stroke="#222" stroke-width="0.55"/>
<circle cx="212.35" cy="74.8" r="1.7" fill="#fff" stroke="#222" stroke-width="0.55"/>
<circle cx="207.6" cy="76.7" r="1.7" fill="#fff" stroke="#222" stroke-width="0.55"/>
<circle cx="216.9" cy="78.35" r="1.7" fill="#fff" stroke="#222" stroke-width="0.55"/>
<circle cx="212.35" cy="84.8" r="1.7" fill="#fff" stroke="#222" stroke-width="0.55"/>
<circle cx="212.5" cy="93.3" r="1.7" fill="#fff" stroke="#222" stroke-width="0.55"/>
<circle cx="228.3" cy="52" r="1.9" fill="#000" stroke="#000" stroke-width="0.2"/>
<circle cx="228.3" cy="74" r="1.9" fill="#000" stroke="#000" stroke-width="0.2"/>
<circle cx="223.7" cy="75.5" r="1.9" fill="#000" stroke="#000" stroke-width="0.2"/>
<circle cx="233" cy="76.7" r="1.9" fill="#000" stroke="#000" stroke-width="0.2"/>
<circle cx="233" cy="81.7" r="1.9" fill="#000" stroke="#000" stroke-width="0.2"/>
<circle cx="223.7" cy="83.6" r="1.9" fill="#000" stroke="#000" stroke-width="0.2"/>
<circle cx="228.3" cy="84.6" r="1.9" fill="#000" stroke="#000" stroke-width="0.2"/>
<circle cx="233" cy="86.6" r="1.9" fill="#000" stroke="#000" stroke-width="0.2"/>
<circle cx="223.7" cy="87.5" r="1.9" fill="#000" stroke="#000" stroke-width="0.2"/>
<circle cx="247.6" cy="64.1" r="1.8" fill="#fff" stroke="#e4aaf8" stroke-width="0.75"/>
<circle cx="247.6" cy="75.6" r="1.8" fill="#fff" stroke="#e4aaf8" stroke-width="0.75"/>
<circle cx="247.6" cy="81.1" r="1.8" fill="#fff" stroke="#e4aaf8" stroke-width="0.75"/>
<circle cx="242.7" cy="84.5" r="1.8" fill="#fff" stroke="#e4aaf8" stroke-width="0.75"/>
<circle cx="247.6" cy="87.1" r="1.8" fill="#fff" stroke="#e4aaf8" stroke-width="0.75"/>
<circle cx="242.7" cy="92.8" r="1.8" fill="#fff" stroke="#e4aaf8" stroke-width="0.75"/>
<circle cx="252.3" cy="92.8" r="1.8" fill="#fff" stroke="#e4aaf8" stroke-width="0.75"/>
<circle cx="247.6" cy="96.4" r="1.8" fill="#fff" stroke="#e4aaf8" stroke-width="0.75"/>
<circle cx="247.6" cy="103.4" r="1.8" fill="#fff" stroke="#e4aaf8" stroke-width="0.75"/>
<circle cx="263.5" cy="90.25" r="1.95" fill="#db9df6" stroke="#db9df6" stroke-width="0.2"/>
<circle cx="265.3" cy="95.1" r="1.95" fill="#db9df6" stroke="#db9df6" stroke-width="0.2"/>
<circle cx="262.2" cy="96.9" r="1.95" fill="#db9df6" stroke="#db9df6" stroke-width="0.2"/>
<circle cx="265.3" cy="99.8" r="1.95" fill="#db9df6" stroke="#db9df6" stroke-width="0.2"/>
<circle cx="258.9" cy="105.8" r="1.95" fill="#db9df6" stroke="#db9df6" stroke-width="0.2"/>
<circle cx="268.2" cy="105.6" r="1.95" fill="#db9df6" stroke="#db9df6" stroke-width="0.2"/>
<circle cx="261.9" cy="108.1" r="1.95" fill="#db9df6" stroke="#db9df6" stroke-width="0.2"/>
<circle cx="265.3" cy="107.1" r="1.95" fill="#db9df6" stroke="#db9df6" stroke-width="0.2"/>
<circle cx="262.2" cy="117.7" r="1.95" fill="#db9df6" stroke="#db9df6" stroke-width="0.2"/>
<circle cx="265.3" cy="118.3" r="1.95" fill="#db9df6" stroke="#db9df6" stroke-width="0.2"/>
<circle cx="261.9" cy="121.75" r="1.95" fill="#db9df6" stroke="#db9df6" stroke-width="0.2"/>
<text transform="translate(213.7 140.2) rotate(-45)" text-anchor="end">Ctrl</text>
<text transform="translate(229.75 140.2) rotate(-45)" text-anchor="end">Ctrl+</text>
<text transform="translate(248.75 140.2) rotate(-45)" text-anchor="end">SAMP8</text>
<text transform="translate(265 140.2) rotate(-45)" text-anchor="end">SAMP8+</text>
<text class="yl" transform="translate(168.1 88.3) rotate(-90)" text-anchor="middle" textLength="86.4" lengthAdjust="spacingAndGlyphs">Synaptophysin levels</text>
<path d="M212.7 34.8V30.3H263.6V34.8" fill="none" stroke="#0a0a0a" stroke-width="1"/>
<path d="M211.6 49.4V44.6H248.3V49.7" fill="none" stroke="#0a0a0a" stroke-width="1"/>
<path d="M248.4 57.7V53.3H264V57.7" fill="none" stroke="#0a0a0a" stroke-width="1"/>
<text x="235.4" y="28.3" text-anchor="middle">&lt;0.0001</text>
<text x="230.7" y="42.2" text-anchor="middle">0.0120</text>
<text x="267" y="50.2" text-anchor="middle">0.0046</text>
</g>
<g>
<rect x="58.65" y="314.45" width="17" height="30.95" fill="#fff" stroke="#cfcfcf" stroke-width="0.9"/>
<rect x="79.95" y="276.5" width="17.55" height="68.9" fill="#80fcfc"/>
<rect x="101.9" y="314.8" width="17.75" height="30.6" fill="#4da3ff"/>
<rect x="123.8" y="303.1" width="17.6" height="42.3" fill="#2a14fb"/>
<path d="M49.5 254.55V345.4H147.9" fill="none" stroke="#4a4a4a" stroke-width="0.75"/>
<path d="M49.5 345.4h-2.8M49.5 327.23h-2.8M49.5 309.06h-2.8M49.5 290.89h-2.8M49.5 272.72h-2.8M49.5 254.55h-2.8M67.15 345.4v3.3M88.72 345.4v3.3M110.78 345.4v3.3M132.6 345.4v3.3" fill="none" stroke="#4a4a4a" stroke-width="0.75"/>
<text x="44.8" y="348.1" text-anchor="end">0</text>
<text x="44.8" y="329.93" text-anchor="end">10</text>
<text x="44.8" y="311.76" text-anchor="end">20</text>
<text x="44.8" y="293.59" text-anchor="end">30</text>
<text x="44.8" y="275.42" text-anchor="end">40</text>
<text x="44.8" y="257.25" text-anchor="end">50</text>
<circle cx="66.7" cy="306.9" r="2.5" fill="#fff" stroke="#0a0a0a" stroke-width="0.85"/>
<circle cx="62.45" cy="309.3" r="2.5" fill="#fff" stroke="#0a0a0a" stroke-width="0.85"/>
<circle cx="60.6" cy="311.5" r="2.5" fill="#fff" stroke="#0a0a0a" stroke-width="0.85"/>
<circle cx="66.1" cy="311.1" r="2.5" fill="#fff" stroke="#0a0a0a" stroke-width="0.85"/>
<circle cx="70.7" cy="310.8" r="2.5" fill="#fff" stroke="#0a0a0a" stroke-width="0.85"/>
<circle cx="68.5" cy="315.1" r="2.5" fill="#fff" stroke="#0a0a0a" stroke-width="0.85"/>
<circle cx="73.1" cy="314.8" r="2.5" fill="#fff" stroke="#0a0a0a" stroke-width="0.85"/>
<circle cx="86" cy="266.2" r="2.5" fill="#fff" stroke="#0a0a0a" stroke-width="0.85"/>
<circle cx="91.8" cy="266.2" r="2.5" fill="#fff" stroke="#0a0a0a" stroke-width="0.85"/>
<circle cx="88.8" cy="271.9" r="2.5" fill="#fff" stroke="#0a0a0a" stroke-width="0.85"/>
<circle cx="94.8" cy="274.9" r="2.5" fill="#fff" stroke="#0a0a0a" stroke-width="0.85"/>
<circle cx="82.7" cy="279.5" r="2.5" fill="#fff" stroke="#0a0a0a" stroke-width="0.85"/>
<circle cx="88.8" cy="280.6" r="2.5" fill="#fff" stroke="#0a0a0a" stroke-width="0.85"/>
<circle cx="95" cy="280.35" r="2.5" fill="#fff" stroke="#0a0a0a" stroke-width="0.85"/>
<circle cx="88.8" cy="290.4" r="2.5" fill="#fff" stroke="#0a0a0a" stroke-width="0.85"/>
<circle cx="104.5" cy="310" r="2.5" fill="#fff" stroke="#0a0a0a" stroke-width="0.85"/>
<circle cx="110.4" cy="311.1" r="2.5" fill="#fff" stroke="#0a0a0a" stroke-width="0.85"/>
<circle cx="113.9" cy="313" r="2.5" fill="#fff" stroke="#0a0a0a" stroke-width="0.85"/>
<circle cx="117.3" cy="314.1" r="2.5" fill="#fff" stroke="#0a0a0a" stroke-width="0.85"/>
<circle cx="107.4" cy="315.2" r="2.5" fill="#fff" stroke="#0a0a0a" stroke-width="0.85"/>
<circle cx="111.1" cy="316.2" r="2.5" fill="#fff" stroke="#0a0a0a" stroke-width="0.85"/>
<circle cx="114.3" cy="318.3" r="2.5" fill="#fff" stroke="#0a0a0a" stroke-width="0.85"/>
<circle cx="110.7" cy="319" r="2.5" fill="#fff" stroke="#0a0a0a" stroke-width="0.85"/>
<circle cx="107.2" cy="321" r="2.5" fill="#fff" stroke="#0a0a0a" stroke-width="0.85"/>
<circle cx="132.5" cy="289.3" r="2.5" fill="#fff" stroke="#0a0a0a" stroke-width="0.85"/>
<circle cx="126.55" cy="300.1" r="2.5" fill="#fff" stroke="#0a0a0a" stroke-width="0.85"/>
<circle cx="130.8" cy="299" r="2.5" fill="#fff" stroke="#0a0a0a" stroke-width="0.85"/>
<circle cx="135" cy="300.6" r="2.5" fill="#fff" stroke="#0a0a0a" stroke-width="0.85"/>
<circle cx="139.1" cy="303.1" r="2.5" fill="#fff" stroke="#0a0a0a" stroke-width="0.85"/>
<circle cx="130.8" cy="305.2" r="2.5" fill="#fff" stroke="#0a0a0a" stroke-width="0.85"/>
<circle cx="134.55" cy="308.2" r="2.5" fill="#fff" stroke="#0a0a0a" stroke-width="0.85"/>
<circle cx="132.5" cy="320.3" r="2.5" fill="#fff" stroke="#0a0a0a" stroke-width="0.85"/>
<path d="M66.7 316.33V310.88M64.7 316.33h4M64.7 310.88h4" fill="none" stroke="#111" stroke-width="0.9"/>
<path d="M88.8 284.17V268.54M86.8 284.17h4M86.8 268.54h4" fill="none" stroke="#111" stroke-width="0.9"/>
<path d="M110.4 318.33V311.6M108.4 318.33h4M108.4 311.6h4" fill="none" stroke="#111" stroke-width="0.9"/>
<path d="M132.5 312.15V294.71M130.5 312.15h4M130.5 294.71h4" fill="none" stroke="#111" stroke-width="0.9"/>
<text transform="translate(72.25 354) rotate(-45)" text-anchor="end">Ctrl</text>
<text transform="translate(93.82 354) rotate(-45)" text-anchor="end">SAMP8</text>
<text transform="translate(115.88 354) rotate(-45)" text-anchor="end">Ctrl+</text>
<text transform="translate(137.7 354) rotate(-45)" text-anchor="end">SAMP8+</text>
<text class="yl" transform="translate(8.7 300.25) rotate(-90)" text-anchor="middle" textLength="57.1" lengthAdjust="spacingAndGlyphs">GFAP intensity</text>
<path d="M66 260.8V256.3H89.4" fill="none" stroke="#0a0a0a" stroke-width="1"/>
<path d="M89.4 260.8V249.8H132.4V254.2" fill="none" stroke="#0a0a0a" stroke-width="1"/>
<path d="M109.4 282.3V277.8H132.5V282.3" fill="none" stroke="#0a0a0a" stroke-width="1"/>
<text x="68.3" y="252" text-anchor="middle">&lt;0.0001</text>
<text x="112.3" y="248" text-anchor="middle">&lt;0.0001</text>
<text x="125.1" y="276" text-anchor="middle">0.0093</text>
</g>
<g>
<rect x="264.95" y="288.5" width="12.15" height="54.9" fill="#8d8d8d"/>
<rect x="281.15" y="281.45" width="12.55" height="61.95" fill="#8d8d8d"/>
<rect x="300.1" y="286.8" width="13.1" height="56.6" fill="#ae2868"/>
<rect x="316.4" y="292.2" width="12.7" height="51.2" fill="#ae2868"/>
<path d="M258.4 252.4V343.4H336.2" fill="none" stroke="#606060" stroke-width="0.75"/>
<path d="M258.4 343.4h-2.8M258.4 325.2h-2.8M258.4 307h-2.8M258.4 288.8h-2.8M258.4 270.6h-2.8M258.4 252.4h-2.8M271.02 343.4v2.6M287.42 343.4v2.6M306.65 343.4v2.6M322.75 343.4v2.6" fill="none" stroke="#606060" stroke-width="0.75"/>
<text x="253.7" y="346.1" text-anchor="end">0</text>
<text x="253.7" y="327.9" text-anchor="end">10</text>
<text x="253.7" y="309.7" text-anchor="end">20</text>
<text x="253.7" y="291.5" text-anchor="end">30</text>
<text x="253.7" y="273.3" text-anchor="end">40</text>
<text x="253.7" y="255.1" text-anchor="end">50</text>
<path d="M271 293.35V283.34M269.5 293.35h3M269.5 283.34h3" fill="none" stroke="#555" stroke-width="0.6"/>
<path d="M287.4 288.8V273.33M285.9 288.8h3M285.9 273.33h3" fill="none" stroke="#333" stroke-width="0.6"/>
<path d="M306.35 296.99V280.97M304.85 296.99h3M304.85 280.97h3" fill="none" stroke="#222" stroke-width="0.6"/>
<path d="M322.8 295.17V286.98M321.3 295.17h3M321.3 286.98h3" fill="none" stroke="#f27af4" stroke-width="0.6"/>
<circle cx="272.4" cy="276.1" r="2.5" fill="#fff" stroke="#111" stroke-width="0.5"/>
<circle cx="269.9" cy="277.1" r="2.5" fill="#fff" stroke="#111" stroke-width="0.5"/>
<circle cx="267" cy="281.9" r="2.5" fill="#fff" stroke="#111" stroke-width="0.5"/>
<circle cx="269.9" cy="286.8" r="2.5" fill="#fff" stroke="#111" stroke-width="0.5"/>
<circle cx="274.9" cy="287" r="2.5" fill="#fff" stroke="#111" stroke-width="0.5"/>
<circle cx="267" cy="287.5" r="2.5" fill="#fff" stroke="#111" stroke-width="0.5"/>
<circle cx="272.25" cy="291.6" r="2.5" fill="#fff" stroke="#111" stroke-width="0.5"/>
<circle cx="269.9" cy="293.9" r="2.5" fill="#fff" stroke="#111" stroke-width="0.5"/>
<circle cx="272.25" cy="298" r="2.5" fill="#fff" stroke="#111" stroke-width="0.5"/>
<circle cx="269.9" cy="300.9" r="2.5" fill="#fff" stroke="#111" stroke-width="0.5"/>
<circle cx="283.3" cy="269.3" r="2.65" fill="#000" stroke="#000" stroke-width="0.2"/>
<circle cx="288.6" cy="271.1" r="2.65" fill="#000" stroke="#000" stroke-width="0.2"/>
<circle cx="286.1" cy="273.4" r="2.65" fill="#000" stroke="#000" stroke-width="0.2"/>
<circle cx="291.3" cy="273.2" r="2.65" fill="#000" stroke="#000" stroke-width="0.2"/>
<circle cx="287.3" cy="279.8" r="2.65" fill="#000" stroke="#000" stroke-width="0.2"/>
<circle cx="286.9" cy="284.8" r="2.65" fill="#000" stroke="#000" stroke-width="0.2"/>
<circle cx="284.4" cy="286.8" r="2.65" fill="#000" stroke="#000" stroke-width="0.2"/>
<circle cx="289.6" cy="286.7" r="2.65" fill="#000" stroke="#000" stroke-width="0.2"/>
<circle cx="287.3" cy="293" r="2.65" fill="#000" stroke="#000" stroke-width="0.2"/>
<circle cx="287.3" cy="300.5" r="2.65" fill="#000" stroke="#000" stroke-width="0.2"/>
<circle cx="310.7" cy="272.8" r="2.45" fill="#fff" stroke="#efaef9" stroke-width="0.6"/>
<circle cx="308.4" cy="274.25" r="2.45" fill="#fff" stroke="#efaef9" stroke-width="0.6"/>
<circle cx="303" cy="276.1" r="2.45" fill="#fff" stroke="#efaef9" stroke-width="0.6"/>
<circle cx="308" cy="280.6" r="2.45" fill="#fff" stroke="#efaef9" stroke-width="0.6"/>
<circle cx="305.5" cy="287.7" r="2.45" fill="#fff" stroke="#efaef9" stroke-width="0.6"/>
<circle cx="308" cy="291.4" r="2.45" fill="#fff" stroke="#efaef9" stroke-width="0.6"/>
<circle cx="303" cy="294.3" r="2.45" fill="#fff" stroke="#efaef9" stroke-width="0.6"/>
<circle cx="305.9" cy="295.1" r="2.45" fill="#fff" stroke="#efaef9" stroke-width="0.6"/>
<circle cx="310.9" cy="297.6" r="2.45" fill="#fff" stroke="#efaef9" stroke-width="0.6"/>
<circle cx="308" cy="298.4" r="2.45" fill="#fff" stroke="#efaef9" stroke-width="0.6"/>
<circle cx="302.8" cy="299.7" r="2.45" fill="#fff" stroke="#efaef9" stroke-width="0.6"/>
<circle cx="321.7" cy="285.2" r="2.45" fill="#e4a0f8" stroke="#f46cf0" stroke-width="0.65"/>
<circle cx="324.6" cy="285" r="2.45" fill="#e4a0f8" stroke="#f46cf0" stroke-width="0.65"/>
<circle cx="322.9" cy="288.1" r="2.45" fill="#e4a0f8" stroke="#f46cf0" stroke-width="0.65"/>
<circle cx="320.2" cy="291.1" r="2.45" fill="#e4a0f8" stroke="#f46cf0" stroke-width="0.65"/>
<circle cx="325.4" cy="291.1" r="2.45" fill="#e4a0f8" stroke="#f46cf0" stroke-width="0.65"/>
<circle cx="318.8" cy="294.3" r="2.45" fill="#e4a0f8" stroke="#f46cf0" stroke-width="0.65"/>
<circle cx="321.8" cy="294.7" r="2.45" fill="#e4a0f8" stroke="#f46cf0" stroke-width="0.65"/>
<circle cx="325" cy="294.7" r="2.45" fill="#e4a0f8" stroke="#f46cf0" stroke-width="0.65"/>
<circle cx="327.9" cy="294.3" r="2.45" fill="#e4a0f8" stroke="#f46cf0" stroke-width="0.65"/>
<circle cx="323.3" cy="292.6" r="2.45" fill="#e4a0f8" stroke="#f46cf0" stroke-width="0.65"/>
<text transform="translate(274.82 351.4) rotate(-45)" text-anchor="end">Ctrl</text>
<text transform="translate(291.22 351.4) rotate(-45)" text-anchor="end">Ctrl+</text>
<text transform="translate(310.45 351.4) rotate(-45)" text-anchor="end">SAMP8</text>
<text transform="translate(326.55 351.4) rotate(-45)" text-anchor="end">SAMP8+</text>
<text class="yl" transform="translate(223.1 303.3) rotate(-90)" text-anchor="middle" textLength="67.4" lengthAdjust="spacingAndGlyphs">Aβ1-40 (pg/ug)</text>
</g>
<g>
<rect x="409.8" y="303.9" width="12.1" height="38.5" fill="#8d8d8d"/>
<rect x="425.8" y="303.1" width="12.9" height="39.3" fill="#8d8d8d"/>
<rect x="445.2" y="281.9" width="12.5" height="60.5" fill="#ae2868"/>
<rect x="461.7" y="302.8" width="12.5" height="39.6" fill="#ae2868"/>
<path d="M403.15 251.4V342.4H481.1" fill="none" stroke="#606060" stroke-width="0.75"/>
<path d="M403.15 342.4h-2.8M403.15 312.07h-2.8M403.15 281.73h-2.8M403.15 251.4h-2.8M415.85 342.4v2.6M432.25 342.4v2.6M451.45 342.4v2.6M467.95 342.4v2.6" fill="none" stroke="#606060" stroke-width="0.75"/>
<text x="398.45" y="345.1" text-anchor="end">0</text>
<text x="398.45" y="314.77" text-anchor="end">20</text>
<text x="398.45" y="284.43" text-anchor="end">40</text>
<text x="398.45" y="254.1" text-anchor="end">60</text>
<path d="M415.9 312.07V295.38M414.4 312.07h3M414.4 295.38h3" fill="none" stroke="#555" stroke-width="0.6"/>
<path d="M432.2 312.07V293.87M430.7 312.07h3M430.7 293.87h3" fill="none" stroke="#333" stroke-width="0.6"/>
<path d="M451.4 293.87V269.6M449.9 293.87h3M449.9 269.6h3" fill="none" stroke="#222" stroke-width="0.6"/>
<path d="M468 308.27V299.18M466.5 308.27h3M466.5 299.18h3" fill="none" stroke="#f27af4" stroke-width="0.6"/>
<circle cx="415.9" cy="286.8" r="2.5" fill="#fff" stroke="#111" stroke-width="0.5"/>
<circle cx="415.9" cy="295.1" r="2.5" fill="#fff" stroke="#111" stroke-width="0.5"/>
<circle cx="413.7" cy="300.2" r="2.5" fill="#fff" stroke="#111" stroke-width="0.5"/>
<circle cx="418.2" cy="299.1" r="2.5" fill="#fff" stroke="#111" stroke-width="0.5"/>
<circle cx="416.8" cy="305.6" r="2.5" fill="#fff" stroke="#111" stroke-width="0.5"/>
<circle cx="413.3" cy="308.5" r="2.5" fill="#fff" stroke="#111" stroke-width="0.5"/>
<circle cx="417.8" cy="310.1" r="2.5" fill="#fff" stroke="#111" stroke-width="0.5"/>
<circle cx="411.8" cy="311.8" r="2.5" fill="#fff" stroke="#111" stroke-width="0.5"/>
<circle cx="419.9" cy="313.2" r="2.5" fill="#fff" stroke="#111" stroke-width="0.5"/>
<circle cx="432.15" cy="288" r="2.65" fill="#000" stroke="#000" stroke-width="0.2"/>
<circle cx="433.1" cy="295.25" r="2.65" fill="#000" stroke="#000" stroke-width="0.2"/>
<circle cx="436.3" cy="297.7" r="2.65" fill="#000" stroke="#000" stroke-width="0.2"/>
<circle cx="428.3" cy="299.6" r="2.65" fill="#000" stroke="#000" stroke-width="0.2"/>
<circle cx="432.3" cy="298.6" r="2.65" fill="#000" stroke="#000" stroke-width="0.2"/>
<circle cx="433.6" cy="301.9" r="2.65" fill="#000" stroke="#000" stroke-width="0.2"/>
<circle cx="430.8" cy="303.1" r="2.65" fill="#000" stroke="#000" stroke-width="0.2"/>
<circle cx="433.1" cy="309.6" r="2.65" fill="#000" stroke="#000" stroke-width="0.2"/>
<circle cx="430.7" cy="310.4" r="2.65" fill="#000" stroke="#000" stroke-width="0.2"/>
<circle cx="433.6" cy="315.9" r="2.65" fill="#000" stroke="#000" stroke-width="0.2"/>
<circle cx="431.3" cy="316.4" r="2.65" fill="#000" stroke="#000" stroke-width="0.2"/>
<circle cx="450.55" cy="263.1" r="2.45" fill="#fff" stroke="#efaef9" stroke-width="0.6"/>
<circle cx="452.9" cy="266.2" r="2.45" fill="#fff" stroke="#efaef9" stroke-width="0.6"/>
<circle cx="450.2" cy="269.1" r="2.45" fill="#fff" stroke="#efaef9" stroke-width="0.6"/>
<circle cx="455.7" cy="276.2" r="2.45" fill="#fff" stroke="#efaef9" stroke-width="0.6"/>
<circle cx="452.4" cy="279.1" r="2.45" fill="#fff" stroke="#efaef9" stroke-width="0.6"/>
<circle cx="449.5" cy="280.5" r="2.45" fill="#fff" stroke="#efaef9" stroke-width="0.6"/>
<circle cx="452.9" cy="286.7" r="2.45" fill="#fff" stroke="#efaef9" stroke-width="0.6"/>
<circle cx="447.7" cy="290.3" r="2.45" fill="#fff" stroke="#efaef9" stroke-width="0.6"/>
<circle cx="450.8" cy="290" r="2.45" fill="#fff" stroke="#efaef9" stroke-width="0.6"/>
<circle cx="455.7" cy="291.4" r="2.45" fill="#fff" stroke="#efaef9" stroke-width="0.6"/>
<circle cx="452.7" cy="293.5" r="2.45" fill="#fff" stroke="#efaef9" stroke-width="0.6"/>
<circle cx="448.1" cy="296.5" r="2.45" fill="#fff" stroke="#efaef9" stroke-width="0.6"/>
<circle cx="470.1" cy="298.4" r="2.45" fill="#e4a0f8" stroke="#f46cf0" stroke-width="0.65"/>
<circle cx="465.4" cy="299.5" r="2.45" fill="#e4a0f8" stroke="#f46cf0" stroke-width="0.65"/>
<circle cx="463.3" cy="301.1" r="2.45" fill="#e4a0f8" stroke="#f46cf0" stroke-width="0.65"/>
<circle cx="467.1" cy="301.7" r="2.45" fill="#e4a0f8" stroke="#f46cf0" stroke-width="0.65"/>
<circle cx="472.5" cy="301.7" r="2.45" fill="#e4a0f8" stroke="#f46cf0" stroke-width="0.65"/>
<circle cx="469.8" cy="303.9" r="2.45" fill="#e4a0f8" stroke="#f46cf0" stroke-width="0.65"/>
<circle cx="465.4" cy="304.4" r="2.45" fill="#e4a0f8" stroke="#f46cf0" stroke-width="0.65"/>
<circle cx="467.6" cy="308.2" r="2.45" fill="#e4a0f8" stroke="#f46cf0" stroke-width="0.65"/>
<circle cx="466" cy="312.5" r="2.45" fill="#e4a0f8" stroke="#f46cf0" stroke-width="0.65"/>
<circle cx="469.4" cy="312.3" r="2.45" fill="#e4a0f8" stroke="#f46cf0" stroke-width="0.65"/>
<text transform="translate(418.85 350.2) rotate(-45)" text-anchor="end">Ctrl</text>
<text transform="translate(435.25 350.2) rotate(-45)" text-anchor="end">Ctrl+</text>
<text transform="translate(454.45 350.2) rotate(-45)" text-anchor="end">SAMP8</text>
<text transform="translate(470.95 350.2) rotate(-45)" text-anchor="end">SAMP8+</text>
<text class="yl" transform="translate(365.4 303.3) rotate(-90)" text-anchor="middle" textLength="67.4" lengthAdjust="spacingAndGlyphs">Aβ1-42 (pg/ug)</text>
<path d="M415.85 243.7V238.6H451.3V243.6" fill="none" stroke="#0a0a0a" stroke-width="1"/>
<path d="M451.3 257.5V253.5H465.2V257.5" fill="none" stroke="#0a0a0a" stroke-width="1"/>
<text x="433.4" y="234.3" text-anchor="middle">&lt;0.0001</text>
<text x="463.8" y="251.8" text-anchor="middle">&lt;0.0001</text>
</g>
<g>
<rect x="555.2" y="295.1" width="12.2" height="46.3" fill="#8d8d8d"/>
<rect x="571.2" y="287.25" width="12.7" height="54.15" fill="#8d8d8d"/>
<rect x="590.4" y="277.8" width="12.5" height="63.6" fill="#ae2868"/>
<rect x="606.9" y="291" width="12.4" height="50.4" fill="#ae2868"/>
<path d="M548.4 251V341.4H626.6" fill="none" stroke="#606060" stroke-width="0.75"/>
<path d="M548.4 341.4h-2.8M548.4 323.32h-2.8M548.4 305.24h-2.8M548.4 287.16h-2.8M548.4 269.08h-2.8M548.4 251h-2.8M561.3 341.4v2.6M577.55 341.4v2.6M596.65 341.4v2.6M613.1 341.4v2.6" fill="none" stroke="#606060" stroke-width="0.75"/>
<text x="543.7" y="344.1" text-anchor="end">0</text>
<text x="543.7" y="326.02" text-anchor="end">20</text>
<text x="543.7" y="307.94" text-anchor="end">40</text>
<text x="543.7" y="289.86" text-anchor="end">60</text>
<text x="543.7" y="271.78" text-anchor="end">80</text>
<text x="543.7" y="253.7" text-anchor="end">100</text>
<path d="M561.3 301.62V288.06M559.8 301.62h3M559.8 288.06h3" fill="none" stroke="#555" stroke-width="0.6"/>
<path d="M577.5 297.1V277.22M576 297.1h3M576 277.22h3" fill="none" stroke="#333" stroke-width="0.6"/>
<path d="M596.6 287.16V268.18M595.1 287.16h3M595.1 268.18h3" fill="none" stroke="#222" stroke-width="0.6"/>
<path d="M613.1 296.2V284.9M611.6 296.2h3M611.6 284.9h3" fill="none" stroke="#f27af4" stroke-width="0.6"/>
<circle cx="561.1" cy="280.4" r="2.5" fill="#fff" stroke="#111" stroke-width="0.5"/>
<circle cx="558.9" cy="284.8" r="2.5" fill="#fff" stroke="#111" stroke-width="0.5"/>
<circle cx="563.4" cy="283.9" r="2.5" fill="#fff" stroke="#111" stroke-width="0.5"/>
<circle cx="561.1" cy="291" r="2.5" fill="#fff" stroke="#111" stroke-width="0.5"/>
<circle cx="556.6" cy="293.3" r="2.5" fill="#fff" stroke="#111" stroke-width="0.5"/>
<circle cx="565.1" cy="293.5" r="2.5" fill="#fff" stroke="#111" stroke-width="0.5"/>
<circle cx="561.1" cy="294.9" r="2.5" fill="#fff" stroke="#111" stroke-width="0.5"/>
<circle cx="561.1" cy="298.4" r="2.5" fill="#fff" stroke="#111" stroke-width="0.5"/>
<circle cx="565.1" cy="298.4" r="2.5" fill="#fff" stroke="#111" stroke-width="0.5"/>
<circle cx="557.2" cy="303" r="2.5" fill="#fff" stroke="#111" stroke-width="0.5"/>
<circle cx="577.5" cy="272.35" r="2.65" fill="#000" stroke="#000" stroke-width="0.2"/>
<circle cx="579.1" cy="277.7" r="2.65" fill="#000" stroke="#000" stroke-width="0.2"/>
<circle cx="575.8" cy="279.8" r="2.65" fill="#000" stroke="#000" stroke-width="0.2"/>
<circle cx="573.2" cy="281.5" r="2.65" fill="#000" stroke="#000" stroke-width="0.2"/>
<circle cx="581.5" cy="281.5" r="2.65" fill="#000" stroke="#000" stroke-width="0.2"/>
<circle cx="578.7" cy="286" r="2.65" fill="#000" stroke="#000" stroke-width="0.2"/>
<circle cx="575.8" cy="286.4" r="2.65" fill="#000" stroke="#000" stroke-width="0.2"/>
<circle cx="578.7" cy="293.9" r="2.65" fill="#000" stroke="#000" stroke-width="0.2"/>
<circle cx="576" cy="294.3" r="2.65" fill="#000" stroke="#000" stroke-width="0.2"/>
<circle cx="578.7" cy="300.9" r="2.65" fill="#000" stroke="#000" stroke-width="0.2"/>
<circle cx="576.25" cy="304.6" r="2.65" fill="#000" stroke="#000" stroke-width="0.2"/>
<circle cx="598.2" cy="260.8" r="2.45" fill="#fff" stroke="#efaef9" stroke-width="0.6"/>
<circle cx="595.8" cy="263.2" r="2.45" fill="#fff" stroke="#efaef9" stroke-width="0.6"/>
<circle cx="593" cy="270" r="2.45" fill="#fff" stroke="#efaef9" stroke-width="0.6"/>
<circle cx="595.8" cy="271.5" r="2.45" fill="#fff" stroke="#efaef9" stroke-width="0.6"/>
<circle cx="593" cy="276" r="2.45" fill="#fff" stroke="#efaef9" stroke-width="0.6"/>
<circle cx="600.8" cy="275" r="2.45" fill="#fff" stroke="#efaef9" stroke-width="0.6"/>
<circle cx="598.2" cy="280" r="2.45" fill="#fff" stroke="#efaef9" stroke-width="0.6"/>
<circle cx="593" cy="283.5" r="2.45" fill="#fff" stroke="#efaef9" stroke-width="0.6"/>
<circle cx="595.5" cy="286.5" r="2.45" fill="#fff" stroke="#efaef9" stroke-width="0.6"/>
<circle cx="598.2" cy="287.5" r="2.45" fill="#fff" stroke="#efaef9" stroke-width="0.6"/>
<circle cx="601" cy="286.2" r="2.45" fill="#fff" stroke="#efaef9" stroke-width="0.6"/>
<circle cx="593" cy="290" r="2.45" fill="#fff" stroke="#efaef9" stroke-width="0.6"/>
<circle cx="613" cy="276.3" r="2.45" fill="#e4a0f8" stroke="#f46cf0" stroke-width="0.65"/>
<circle cx="614" cy="287" r="2.45" fill="#e4a0f8" stroke="#f46cf0" stroke-width="0.65"/>
<circle cx="611" cy="286.5" r="2.45" fill="#e4a0f8" stroke="#f46cf0" stroke-width="0.65"/>
<circle cx="608.8" cy="289.8" r="2.45" fill="#e4a0f8" stroke="#f46cf0" stroke-width="0.65"/>
<circle cx="617" cy="291.5" r="2.45" fill="#e4a0f8" stroke="#f46cf0" stroke-width="0.65"/>
<circle cx="614.5" cy="290.5" r="2.45" fill="#e4a0f8" stroke="#f46cf0" stroke-width="0.65"/>
<circle cx="613" cy="295" r="2.45" fill="#e4a0f8" stroke="#f46cf0" stroke-width="0.65"/>
<circle cx="610.2" cy="299.8" r="2.45" fill="#e4a0f8" stroke="#f46cf0" stroke-width="0.65"/>
<circle cx="615.5" cy="299.5" r="2.45" fill="#e4a0f8" stroke="#f46cf0" stroke-width="0.65"/>
<circle cx="611.5" cy="292" r="2.45" fill="#e4a0f8" stroke="#f46cf0" stroke-width="0.65"/>
<text transform="translate(564.45 349.1) rotate(-45)" text-anchor="end">Ctrl</text>
<text transform="translate(580.7 349.1) rotate(-45)" text-anchor="end">Ctrl+</text>
<text transform="translate(599.8 349.1) rotate(-45)" text-anchor="end">SAMP8</text>
<text transform="translate(616.25 349.1) rotate(-45)" text-anchor="end">SAMP8+</text>
<text class="yl" transform="translate(514.6 301.9) rotate(-90)" text-anchor="middle" textLength="69.4" lengthAdjust="spacingAndGlyphs">Total Aβ (pg/ug)</text>
<path d="M561.3 238.6V234.3H597V238.6" fill="none" stroke="#0a0a0a" stroke-width="1"/>
<path d="M597.4 256.2V251.8H613.4V256.2" fill="none" stroke="#0a0a0a" stroke-width="1"/>
<text x="581.1" y="230.8" text-anchor="middle">0.0048</text>
<text x="608.2" y="248.9" text-anchor="middle">0.0154</text>
</g>
<g>
<rect x="76.2" y="486.9" width="12" height="59.5" fill="#8d8d8d"/>
<rect x="92" y="486.9" width="12.7" height="59.5" fill="#8d8d8d"/>
<rect x="111" y="484" width="12.7" height="62.4" fill="#ae2868"/>
<rect x="127.4" y="486.7" width="12.7" height="59.7" fill="#ae2868"/>
<path d="M69.5 456.4V546.4H146.3" fill="none" stroke="#606060" stroke-width="0.75"/>
<path d="M69.5 546.4h-2.8M69.5 516.4h-2.8M69.5 486.4h-2.8M69.5 456.4h-2.8M82.2 546.4v2.6M98.35 546.4v2.6M117.35 546.4v2.6M133.75 546.4v2.6" fill="none" stroke="#606060" stroke-width="0.75"/>
<text x="64.8" y="549.1" text-anchor="end">0</text>
<text x="64.8" y="519.1" text-anchor="end">50</text>
<text x="64.8" y="489.1" text-anchor="end">100</text>
<text x="64.8" y="459.1" text-anchor="end">150</text>
<path d="M82.2 492.4V481.6M80.7 492.4h3M80.7 481.6h3" fill="none" stroke="#555" stroke-width="0.6"/>
<path d="M98.3 496.6V478.6M96.8 496.6h3M96.8 478.6h3" fill="none" stroke="#333" stroke-width="0.6"/>
<path d="M117.3 491.2V483.4M115.8 491.2h3M115.8 483.4h3" fill="none" stroke="#111" stroke-width="0.6"/>
<path d="M133.7 495.4V479.2M132.2 495.4h3M132.2 479.2h3" fill="none" stroke="#f27af4" stroke-width="0.6"/>
<circle cx="81.1" cy="476.8" r="2.5" fill="#fff" stroke="#111" stroke-width="0.5"/>
<circle cx="83.2" cy="480.3" r="2.5" fill="#fff" stroke="#111" stroke-width="0.5"/>
<circle cx="78.2" cy="482.8" r="2.5" fill="#fff" stroke="#111" stroke-width="0.5"/>
<circle cx="85.9" cy="483.2" r="2.5" fill="#fff" stroke="#111" stroke-width="0.5"/>
<circle cx="80.3" cy="484.9" r="2.5" fill="#fff" stroke="#111" stroke-width="0.5"/>
<circle cx="84" cy="485.7" r="2.5" fill="#fff" stroke="#111" stroke-width="0.5"/>
<circle cx="80.3" cy="490.7" r="2.5" fill="#fff" stroke="#111" stroke-width="0.5"/>
<circle cx="83.6" cy="490.7" r="2.5" fill="#fff" stroke="#111" stroke-width="0.5"/>
<circle cx="83.2" cy="494.4" r="2.5" fill="#fff" stroke="#111" stroke-width="0.5"/>
<circle cx="81.1" cy="496.5" r="2.5" fill="#fff" stroke="#111" stroke-width="0.5"/>
<circle cx="99.3" cy="473.3" r="2.65" fill="#000" stroke="#000" stroke-width="0.2"/>
<circle cx="94.35" cy="476.2" r="2.65" fill="#000" stroke="#000" stroke-width="0.2"/>
<circle cx="101.8" cy="481.1" r="2.65" fill="#000" stroke="#000" stroke-width="0.2"/>
<circle cx="96.8" cy="482.8" r="2.65" fill="#000" stroke="#000" stroke-width="0.2"/>
<circle cx="94.35" cy="484.9" r="2.65" fill="#000" stroke="#000" stroke-width="0.2"/>
<circle cx="99.3" cy="485.7" r="2.65" fill="#000" stroke="#000" stroke-width="0.2"/>
<circle cx="101.8" cy="488.6" r="2.65" fill="#000" stroke="#000" stroke-width="0.2"/>
<circle cx="96.8" cy="489" r="2.65" fill="#000" stroke="#000" stroke-width="0.2"/>
<circle cx="96.8" cy="498.1" r="2.65" fill="#000" stroke="#000" stroke-width="0.2"/>
<circle cx="99.3" cy="500.6" r="2.65" fill="#000" stroke="#000" stroke-width="0.2"/>
<circle cx="98.1" cy="506.2" r="2.65" fill="#000" stroke="#000" stroke-width="0.2"/>
<circle cx="121.1" cy="470.6" r="2.45" fill="#fff" stroke="#efaef9" stroke-width="0.6"/>
<circle cx="113.6" cy="475.8" r="2.45" fill="#fff" stroke="#efaef9" stroke-width="0.6"/>
<circle cx="121.1" cy="476.6" r="2.45" fill="#fff" stroke="#efaef9" stroke-width="0.6"/>
<circle cx="113.6" cy="482" r="2.45" fill="#fff" stroke="#efaef9" stroke-width="0.6"/>
<circle cx="121.1" cy="482.8" r="2.45" fill="#fff" stroke="#efaef9" stroke-width="0.6"/>
<circle cx="118.6" cy="484" r="2.45" fill="#fff" stroke="#efaef9" stroke-width="0.6"/>
<circle cx="113.6" cy="487.8" r="2.45" fill="#fff" stroke="#efaef9" stroke-width="0.6"/>
<circle cx="121.1" cy="490.25" r="2.45" fill="#fff" stroke="#efaef9" stroke-width="0.6"/>
<circle cx="118.6" cy="491.5" r="2.45" fill="#fff" stroke="#efaef9" stroke-width="0.6"/>
<circle cx="113.6" cy="493.6" r="2.45" fill="#fff" stroke="#efaef9" stroke-width="0.6"/>
<circle cx="133.5" cy="472.45" r="2.45" fill="#e4a0f8" stroke="#f46cf0" stroke-width="0.65"/>
<circle cx="133.5" cy="476.6" r="2.45" fill="#e4a0f8" stroke="#f46cf0" stroke-width="0.65"/>
<circle cx="129.35" cy="480.3" r="2.45" fill="#e4a0f8" stroke="#f46cf0" stroke-width="0.65"/>
<circle cx="135.15" cy="481.1" r="2.45" fill="#e4a0f8" stroke="#f46cf0" stroke-width="0.65"/>
<circle cx="137.6" cy="481.6" r="2.45" fill="#e4a0f8" stroke="#f46cf0" stroke-width="0.65"/>
<circle cx="133.5" cy="486.5" r="2.45" fill="#e4a0f8" stroke="#f46cf0" stroke-width="0.65"/>
<circle cx="131.8" cy="492.7" r="2.45" fill="#e4a0f8" stroke="#f46cf0" stroke-width="0.65"/>
<circle cx="134.7" cy="492.7" r="2.45" fill="#e4a0f8" stroke="#f46cf0" stroke-width="0.65"/>
<circle cx="136" cy="496.9" r="2.45" fill="#e4a0f8" stroke="#f46cf0" stroke-width="0.65"/>
<circle cx="130.8" cy="499.6" r="2.45" fill="#e4a0f8" stroke="#f46cf0" stroke-width="0.65"/>
<text transform="translate(84.55 553.5) rotate(-45)" text-anchor="end">Ctrl</text>
<text transform="translate(100.7 553.5) rotate(-45)" text-anchor="end">Ctrl+</text>
<text transform="translate(119.7 553.5) rotate(-45)" text-anchor="end">SAMP8</text>
<text transform="translate(136.1 553.5) rotate(-45)" text-anchor="end">SAMP8+</text>
<text class="yl" transform="translate(27.2 506) rotate(-90)" text-anchor="middle" textLength="44.7" lengthAdjust="spacingAndGlyphs">APP levels</text>
</g>
<g>
<rect x="229.1" y="501.9" width="12.1" height="42.5" fill="#8d8d8d"/>
<rect x="245.1" y="500.3" width="12.5" height="44.1" fill="#8d8d8d"/>
<rect x="264.2" y="488.8" width="12.7" height="55.6" fill="#ae2868"/>
<rect x="280.6" y="504" width="12.5" height="40.4" fill="#ae2868"/>
<path d="M222.45 454.5V544.4H300.3" fill="none" stroke="#606060" stroke-width="0.75"/>
<path d="M222.45 544.4h-2.8M222.45 521.92h-2.8M222.45 499.45h-2.8M222.45 476.98h-2.8M222.45 454.5h-2.8M235.15 544.4v2.6M251.35 544.4v2.6M270.55 544.4v2.6M286.85 544.4v2.6" fill="none" stroke="#606060" stroke-width="0.75"/>
<text x="217.75" y="547.1" text-anchor="end">0</text>
<text x="217.75" y="524.62" text-anchor="end">50</text>
<text x="217.75" y="502.15" text-anchor="end">100</text>
<text x="217.75" y="479.68" text-anchor="end">150</text>
<text x="217.75" y="457.2" text-anchor="end">200</text>
<path d="M235.1 511.14V492.26M233.6 511.14h3M233.6 492.26h3" fill="none" stroke="#555" stroke-width="0.6"/>
<path d="M251.3 510.24V490.01M249.8 510.24h3M249.8 490.01h3" fill="none" stroke="#333" stroke-width="0.6"/>
<path d="M270.4 495.99V484.17M268.9 495.99h3M268.9 484.17h3" fill="none" stroke="#111" stroke-width="0.6"/>
<path d="M286.8 515.63V492.26M285.3 515.63h3M285.3 492.26h3" fill="none" stroke="#f27af4" stroke-width="0.6"/>
<circle cx="231.2" cy="492" r="2.5" fill="#fff" stroke="#111" stroke-width="0.5"/>
<circle cx="239.5" cy="492" r="2.5" fill="#fff" stroke="#111" stroke-width="0.5"/>
<circle cx="235.35" cy="492.4" r="2.5" fill="#fff" stroke="#111" stroke-width="0.5"/>
<circle cx="233.3" cy="495.7" r="2.5" fill="#fff" stroke="#111" stroke-width="0.5"/>
<circle cx="237.25" cy="495.7" r="2.5" fill="#fff" stroke="#111" stroke-width="0.5"/>
<circle cx="235.1" cy="501.9" r="2.5" fill="#fff" stroke="#111" stroke-width="0.5"/>
<circle cx="235.1" cy="505.7" r="2.5" fill="#fff" stroke="#111" stroke-width="0.5"/>
<circle cx="239.1" cy="507.5" r="2.5" fill="#fff" stroke="#111" stroke-width="0.5"/>
<circle cx="231.2" cy="509" r="2.5" fill="#fff" stroke="#111" stroke-width="0.5"/>
<circle cx="235.35" cy="510.2" r="2.5" fill="#fff" stroke="#111" stroke-width="0.5"/>
<circle cx="235.1" cy="519.6" r="2.5" fill="#fff" stroke="#111" stroke-width="0.5"/>
<circle cx="251.3" cy="485.8" r="2.65" fill="#000" stroke="#000" stroke-width="0.2"/>
<circle cx="249.8" cy="493.2" r="2.65" fill="#000" stroke="#000" stroke-width="0.2"/>
<circle cx="254.8" cy="494.1" r="2.65" fill="#000" stroke="#000" stroke-width="0.2"/>
<circle cx="247.35" cy="496.1" r="2.65" fill="#000" stroke="#000" stroke-width="0.2"/>
<circle cx="252.3" cy="497.8" r="2.65" fill="#000" stroke="#000" stroke-width="0.2"/>
<circle cx="250.25" cy="501.9" r="2.65" fill="#000" stroke="#000" stroke-width="0.2"/>
<circle cx="252.3" cy="504" r="2.65" fill="#000" stroke="#000" stroke-width="0.2"/>
<circle cx="249.8" cy="504.8" r="2.65" fill="#000" stroke="#000" stroke-width="0.2"/>
<circle cx="251.3" cy="511" r="2.65" fill="#000" stroke="#000" stroke-width="0.2"/>
<circle cx="251.3" cy="519.6" r="2.65" fill="#000" stroke="#000" stroke-width="0.2"/>
<circle cx="272" cy="478" r="2.45" fill="#fff" stroke="#efaef9" stroke-width="0.6"/>
<circle cx="266.8" cy="480.5" r="2.45" fill="#fff" stroke="#efaef9" stroke-width="0.6"/>
<circle cx="274.5" cy="482.5" r="2.45" fill="#fff" stroke="#efaef9" stroke-width="0.6"/>
<circle cx="271.8" cy="485" r="2.45" fill="#fff" stroke="#efaef9" stroke-width="0.6"/>
<circle cx="266.8" cy="487.2" r="2.45" fill="#fff" stroke="#efaef9" stroke-width="0.6"/>
<circle cx="274.5" cy="491" r="2.45" fill="#fff" stroke="#efaef9" stroke-width="0.6"/>
<circle cx="271.5" cy="491.5" r="2.45" fill="#fff" stroke="#efaef9" stroke-width="0.6"/>
<circle cx="266.8" cy="494" r="2.45" fill="#fff" stroke="#efaef9" stroke-width="0.6"/>
<circle cx="272" cy="498.5" r="2.45" fill="#fff" stroke="#efaef9" stroke-width="0.6"/>
<circle cx="269.2" cy="501.2" r="2.45" fill="#fff" stroke="#efaef9" stroke-width="0.6"/>
<circle cx="288" cy="484.5" r="2.45" fill="#e4a0f8" stroke="#f46cf0" stroke-width="0.65"/>
<circle cx="290.5" cy="489.5" r="2.45" fill="#e4a0f8" stroke="#f46cf0" stroke-width="0.65"/>
<circle cx="282.8" cy="491" r="2.45" fill="#e4a0f8" stroke="#f46cf0" stroke-width="0.65"/>
<circle cx="285.2" cy="494.5" r="2.45" fill="#e4a0f8" stroke="#f46cf0" stroke-width="0.65"/>
<circle cx="285" cy="501.8" r="2.45" fill="#e4a0f8" stroke="#f46cf0" stroke-width="0.65"/>
<circle cx="287.5" cy="503.5" r="2.45" fill="#e4a0f8" stroke="#f46cf0" stroke-width="0.65"/>
<circle cx="290.5" cy="503.5" r="2.45" fill="#e4a0f8" stroke="#f46cf0" stroke-width="0.65"/>
<circle cx="285.2" cy="508.8" r="2.45" fill="#e4a0f8" stroke="#f46cf0" stroke-width="0.65"/>
<circle cx="282.8" cy="514" r="2.45" fill="#e4a0f8" stroke="#f46cf0" stroke-width="0.65"/>
<circle cx="290.5" cy="514.5" r="2.45" fill="#e4a0f8" stroke="#f46cf0" stroke-width="0.65"/>
<circle cx="282.8" cy="519.8" r="2.45" fill="#e4a0f8" stroke="#f46cf0" stroke-width="0.65"/>
<circle cx="288" cy="519.2" r="2.45" fill="#e4a0f8" stroke="#f46cf0" stroke-width="0.65"/>
<text transform="translate(237.7 551.5) rotate(-45)" text-anchor="end">Ctrl</text>
<text transform="translate(253.9 551.5) rotate(-45)" text-anchor="end">Ctrl+</text>
<text transform="translate(273.1 551.5) rotate(-45)" text-anchor="end">SAMP8</text>
<text transform="translate(289.4 551.5) rotate(-45)" text-anchor="end">SAMP8+</text>
<text class="yl" transform="translate(184.9 494.75) rotate(-90)" text-anchor="middle" textLength="59.5" lengthAdjust="spacingAndGlyphs">BACE 1 levels</text>
<path d="M232.8 450V445.7H269.6V450" fill="none" stroke="#0a0a0a" stroke-width="1"/>
<path d="M269.6 472.4V467.6H285V472.4" fill="none" stroke="#0a0a0a" stroke-width="1"/>
<text x="251.5" y="443.5" text-anchor="middle">0.0173</text>
<text x="279.5" y="464.9" text-anchor="middle">0.0053</text>
</g>
<g>
<rect x="384.7" y="503.6" width="12.1" height="41.8" fill="#8d8d8d"/>
<rect x="400.5" y="506.9" width="12.7" height="38.5" fill="#8d8d8d"/>
<rect x="419.8" y="485.2" width="12.7" height="60.2" fill="#ae2868"/>
<rect x="436.6" y="512.5" width="12.7" height="32.9" fill="#ae2868"/>
<path d="M378.35 455.2V545.4H455.9" fill="none" stroke="#606060" stroke-width="0.75"/>
<path d="M378.35 545.4h-2.8M378.35 522.85h-2.8M378.35 500.3h-2.8M378.35 477.75h-2.8M378.35 455.2h-2.8M390.75 545.4v2.6M406.85 545.4v2.6M426.15 545.4v2.6M442.95 545.4v2.6" fill="none" stroke="#606060" stroke-width="0.75"/>
<text x="373.65" y="548.1" text-anchor="end">0</text>
<text x="373.65" y="525.55" text-anchor="end">50</text>
<text x="373.65" y="503" text-anchor="end">100</text>
<text x="373.65" y="480.45" text-anchor="end">150</text>
<text x="373.65" y="457.9" text-anchor="end">200</text>
<path d="M390.8 509.32V493.72M389.3 509.32h3M389.3 493.72h3" fill="none" stroke="#555" stroke-width="0.6"/>
<path d="M406.8 518.34V495.34M405.3 518.34h3M405.3 495.34h3" fill="none" stroke="#333" stroke-width="0.6"/>
<path d="M426.3 494.89V475.99M424.8 494.89h3M424.8 475.99h3" fill="none" stroke="#333" stroke-width="0.6"/>
<path d="M442.4 525.56V498.99M440.9 525.56h3M440.9 498.99h3" fill="none" stroke="#f27af4" stroke-width="0.6"/>
<circle cx="390.9" cy="488.7" r="2.5" fill="#fff" stroke="#111" stroke-width="0.5"/>
<circle cx="389.1" cy="497.8" r="2.5" fill="#fff" stroke="#111" stroke-width="0.5"/>
<circle cx="393.4" cy="498.2" r="2.5" fill="#fff" stroke="#111" stroke-width="0.5"/>
<circle cx="393" cy="501.1" r="2.5" fill="#fff" stroke="#111" stroke-width="0.5"/>
<circle cx="387" cy="503" r="2.5" fill="#fff" stroke="#111" stroke-width="0.5"/>
<circle cx="395.1" cy="503" r="2.5" fill="#fff" stroke="#111" stroke-width="0.5"/>
<circle cx="390.9" cy="506.5" r="2.5" fill="#fff" stroke="#111" stroke-width="0.5"/>
<circle cx="390.9" cy="521.2" r="2.5" fill="#fff" stroke="#111" stroke-width="0.5"/>
<circle cx="406.8" cy="486" r="2.65" fill="#000" stroke="#000" stroke-width="0.2"/>
<circle cx="406.8" cy="489.5" r="2.65" fill="#000" stroke="#000" stroke-width="0.2"/>
<circle cx="406.8" cy="495.3" r="2.65" fill="#000" stroke="#000" stroke-width="0.2"/>
<circle cx="406.8" cy="500.3" r="2.65" fill="#000" stroke="#000" stroke-width="0.2"/>
<circle cx="405" cy="506.9" r="2.65" fill="#000" stroke="#000" stroke-width="0.2"/>
<circle cx="409.15" cy="506.9" r="2.65" fill="#000" stroke="#000" stroke-width="0.2"/>
<circle cx="407.1" cy="509.4" r="2.65" fill="#000" stroke="#000" stroke-width="0.2"/>
<circle cx="405" cy="515.2" r="2.65" fill="#000" stroke="#000" stroke-width="0.2"/>
<circle cx="408.7" cy="516.4" r="2.65" fill="#000" stroke="#000" stroke-width="0.2"/>
<circle cx="402.9" cy="519.3" r="2.65" fill="#000" stroke="#000" stroke-width="0.2"/>
<circle cx="406.7" cy="519.7" r="2.65" fill="#000" stroke="#000" stroke-width="0.2"/>
<circle cx="410.8" cy="520.1" r="2.65" fill="#000" stroke="#000" stroke-width="0.2"/>
<circle cx="424.2" cy="469.1" r="2.45" fill="#fff" stroke="#efaef9" stroke-width="0.6"/>
<circle cx="428.3" cy="469.5" r="2.45" fill="#fff" stroke="#efaef9" stroke-width="0.6"/>
<circle cx="426.3" cy="475.6" r="2.45" fill="#fff" stroke="#efaef9" stroke-width="0.6"/>
<circle cx="422.45" cy="481.8" r="2.45" fill="#fff" stroke="#efaef9" stroke-width="0.6"/>
<circle cx="430.3" cy="481.8" r="2.45" fill="#fff" stroke="#efaef9" stroke-width="0.6"/>
<circle cx="422.45" cy="487.3" r="2.45" fill="#fff" stroke="#efaef9" stroke-width="0.6"/>
<circle cx="426.6" cy="486.7" r="2.45" fill="#fff" stroke="#efaef9" stroke-width="0.6"/>
<circle cx="430.3" cy="490" r="2.45" fill="#fff" stroke="#efaef9" stroke-width="0.6"/>
<circle cx="426.3" cy="492.9" r="2.45" fill="#fff" stroke="#efaef9" stroke-width="0.6"/>
<circle cx="428.3" cy="498.4" r="2.45" fill="#fff" stroke="#efaef9" stroke-width="0.6"/>
<circle cx="424.2" cy="502.8" r="2.45" fill="#fff" stroke="#efaef9" stroke-width="0.6"/>
<circle cx="442" cy="488.8" r="2.45" fill="#e4a0f8" stroke="#f46cf0" stroke-width="0.65"/>
<circle cx="444.15" cy="494.1" r="2.45" fill="#e4a0f8" stroke="#f46cf0" stroke-width="0.65"/>
<circle cx="440" cy="496.1" r="2.45" fill="#e4a0f8" stroke="#f46cf0" stroke-width="0.65"/>
<circle cx="438.3" cy="509.6" r="2.45" fill="#e4a0f8" stroke="#f46cf0" stroke-width="0.65"/>
<circle cx="445.9" cy="512.3" r="2.45" fill="#e4a0f8" stroke="#f46cf0" stroke-width="0.65"/>
<circle cx="438.5" cy="515.7" r="2.45" fill="#e4a0f8" stroke="#f46cf0" stroke-width="0.65"/>
<circle cx="442.4" cy="515.7" r="2.45" fill="#e4a0f8" stroke="#f46cf0" stroke-width="0.65"/>
<circle cx="446.3" cy="518.4" r="2.45" fill="#e4a0f8" stroke="#f46cf0" stroke-width="0.65"/>
<circle cx="438.5" cy="522.5" r="2.45" fill="#e4a0f8" stroke="#f46cf0" stroke-width="0.65"/>
<circle cx="442.7" cy="524.6" r="2.45" fill="#e4a0f8" stroke="#f46cf0" stroke-width="0.65"/>
<circle cx="446.3" cy="527.75" r="2.45" fill="#e4a0f8" stroke="#f46cf0" stroke-width="0.65"/>
<circle cx="438.5" cy="528.9" r="2.45" fill="#e4a0f8" stroke="#f46cf0" stroke-width="0.65"/>
<text transform="translate(393.5 553.1) rotate(-45)" text-anchor="end">Ctrl</text>
<text transform="translate(409.6 553.1) rotate(-45)" text-anchor="end">Ctrl+</text>
<text transform="translate(428.9 553.1) rotate(-45)" text-anchor="end">SAMP8</text>
<text transform="translate(445.7 553.1) rotate(-45)" text-anchor="end">SAMP8+</text>
<text class="yl" transform="translate(343.1 502.9) rotate(-90)" text-anchor="middle" textLength="43.8" lengthAdjust="spacingAndGlyphs">PS1 levels</text>
<path d="M387.3 449.7V445.4H423.4V450" fill="none" stroke="#0a0a0a" stroke-width="1"/>
<path d="M424.9 462.7V458.6H440.5V462.7" fill="none" stroke="#0a0a0a" stroke-width="1"/>
<text x="408.8" y="443.5" text-anchor="middle">0.0039</text>
<text x="433.1" y="457.3" text-anchor="middle">&lt;0.0001</text>
</g>
<g>
<rect x="552.1" y="485.7" width="12.7" height="60.3" fill="#8d8d8d"/>
<rect x="568.3" y="494" width="12.7" height="52" fill="#8d8d8d"/>
<rect x="587.6" y="496.9" width="12.7" height="49.1" fill="#ae2868"/>
<rect x="604" y="494.9" width="12.7" height="51.1" fill="#ae2868"/>
<path d="M545.65 455.6V546H623.3" fill="none" stroke="#606060" stroke-width="0.75"/>
<path d="M545.65 546h-2.8M545.65 515.87h-2.8M545.65 485.73h-2.8M545.65 455.6h-2.8M558.45 546v2.6M574.65 546v2.6M593.95 546v2.6M610.35 546v2.6" fill="none" stroke="#606060" stroke-width="0.75"/>
<text x="540.95" y="548.7" text-anchor="end">0</text>
<text x="540.95" y="518.57" text-anchor="end">50</text>
<text x="540.95" y="488.43" text-anchor="end">100</text>
<text x="540.95" y="458.3" text-anchor="end">150</text>
<path d="M558.4 490.55V480.91M556.9 490.55h3M556.9 480.91h3" fill="none" stroke="#555" stroke-width="0.6"/>
<path d="M574.5 506.22V483.99M573 506.22h3M573 483.99h3" fill="none" stroke="#111" stroke-width="0.6"/>
<path d="M594 505.62V488.51M592.5 505.62h3M592.5 488.51h3" fill="none" stroke="#333" stroke-width="0.6"/>
<path d="M610 503.81V487M608.5 503.81h3M608.5 487h3" fill="none" stroke="#f27af4" stroke-width="0.6"/>
<circle cx="558.35" cy="475.8" r="2.5" fill="#fff" stroke="#111" stroke-width="0.5"/>
<circle cx="558.35" cy="481.6" r="2.5" fill="#fff" stroke="#111" stroke-width="0.5"/>
<circle cx="555.6" cy="482.8" r="2.5" fill="#fff" stroke="#111" stroke-width="0.5"/>
<circle cx="562.9" cy="482.8" r="2.5" fill="#fff" stroke="#111" stroke-width="0.5"/>
<circle cx="558.35" cy="485.3" r="2.5" fill="#fff" stroke="#111" stroke-width="0.5"/>
<circle cx="554.6" cy="487.2" r="2.5" fill="#fff" stroke="#111" stroke-width="0.5"/>
<circle cx="561.7" cy="486.9" r="2.5" fill="#fff" stroke="#111" stroke-width="0.5"/>
<circle cx="557.9" cy="489.4" r="2.5" fill="#fff" stroke="#111" stroke-width="0.5"/>
<circle cx="561.2" cy="491.1" r="2.5" fill="#fff" stroke="#111" stroke-width="0.5"/>
<circle cx="556.1" cy="493.1" r="2.5" fill="#fff" stroke="#111" stroke-width="0.5"/>
<circle cx="559.6" cy="493.6" r="2.5" fill="#fff" stroke="#111" stroke-width="0.5"/>
<circle cx="574.5" cy="473.3" r="2.65" fill="#000" stroke="#000" stroke-width="0.2"/>
<circle cx="578.5" cy="482.2" r="2.65" fill="#000" stroke="#000" stroke-width="0.2"/>
<circle cx="574.5" cy="483.4" r="2.65" fill="#000" stroke="#000" stroke-width="0.2"/>
<circle cx="570.5" cy="485.5" r="2.65" fill="#000" stroke="#000" stroke-width="0.2"/>
<circle cx="570.8" cy="495" r="2.65" fill="#000" stroke="#000" stroke-width="0.2"/>
<circle cx="578.5" cy="495.2" r="2.65" fill="#000" stroke="#000" stroke-width="0.2"/>
<circle cx="572.8" cy="498.1" r="2.65" fill="#000" stroke="#000" stroke-width="0.2"/>
<circle cx="576.6" cy="498.1" r="2.65" fill="#000" stroke="#000" stroke-width="0.2"/>
<circle cx="574.5" cy="502.7" r="2.65" fill="#000" stroke="#000" stroke-width="0.2"/>
<circle cx="570.8" cy="508" r="2.65" fill="#000" stroke="#000" stroke-width="0.2"/>
<circle cx="578.5" cy="507.2" r="2.65" fill="#000" stroke="#000" stroke-width="0.2"/>
<circle cx="594" cy="484.35" r="2.45" fill="#fff" stroke="#efaef9" stroke-width="0.6"/>
<circle cx="589.3" cy="493.7" r="2.45" fill="#fff" stroke="#efaef9" stroke-width="0.6"/>
<circle cx="590.45" cy="492.6" r="2.45" fill="#fff" stroke="#efaef9" stroke-width="0.6"/>
<circle cx="594" cy="493.15" r="2.45" fill="#fff" stroke="#efaef9" stroke-width="0.6"/>
<circle cx="597.8" cy="492.6" r="2.45" fill="#fff" stroke="#efaef9" stroke-width="0.6"/>
<circle cx="593.15" cy="495.3" r="2.45" fill="#fff" stroke="#efaef9" stroke-width="0.6"/>
<circle cx="596.3" cy="494.9" r="2.45" fill="#fff" stroke="#efaef9" stroke-width="0.6"/>
<circle cx="594" cy="501.4" r="2.45" fill="#fff" stroke="#efaef9" stroke-width="0.6"/>
<circle cx="594" cy="506.6" r="2.45" fill="#fff" stroke="#efaef9" stroke-width="0.6"/>
<circle cx="594" cy="522.2" r="2.45" fill="#fff" stroke="#efaef9" stroke-width="0.6"/>
<circle cx="610" cy="475" r="2.45" fill="#e4a0f8" stroke="#f46cf0" stroke-width="0.65"/>
<circle cx="610" cy="482.6" r="2.45" fill="#e4a0f8" stroke="#f46cf0" stroke-width="0.65"/>
<circle cx="610" cy="486.1" r="2.45" fill="#e4a0f8" stroke="#f46cf0" stroke-width="0.65"/>
<circle cx="607.2" cy="494.3" r="2.45" fill="#e4a0f8" stroke="#f46cf0" stroke-width="0.65"/>
<circle cx="612.7" cy="494.9" r="2.45" fill="#e4a0f8" stroke="#f46cf0" stroke-width="0.65"/>
<circle cx="611" cy="497.25" r="2.45" fill="#e4a0f8" stroke="#f46cf0" stroke-width="0.65"/>
<circle cx="608.9" cy="502.3" r="2.45" fill="#e4a0f8" stroke="#f46cf0" stroke-width="0.65"/>
<circle cx="613.9" cy="503.1" r="2.45" fill="#e4a0f8" stroke="#f46cf0" stroke-width="0.65"/>
<circle cx="606.05" cy="506.6" r="2.45" fill="#e4a0f8" stroke="#f46cf0" stroke-width="0.65"/>
<circle cx="611.5" cy="501.5" r="2.45" fill="#e4a0f8" stroke="#f46cf0" stroke-width="0.65"/>
<text transform="translate(559.85 553.9) rotate(-45)" text-anchor="end">Ctrl</text>
<text transform="translate(576.05 553.9) rotate(-45)" text-anchor="end">Ctrl+</text>
<text transform="translate(595.35 553.9) rotate(-45)" text-anchor="end">SAMP8</text>
<text transform="translate(611.75 553.9) rotate(-45)" text-anchor="end">SAMP8+</text>
<text class="yl" transform="translate(513.1 498.2) rotate(-90)" text-anchor="middle" textLength="67" lengthAdjust="spacingAndGlyphs">Neprilysin levels</text>
</g>
</svg>
</body></html>
